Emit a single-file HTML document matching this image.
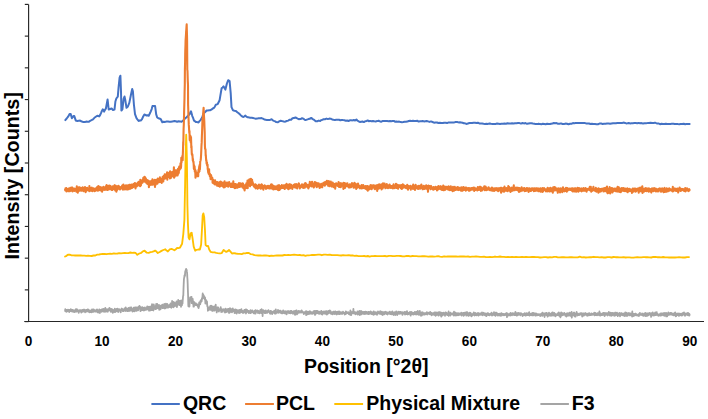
<!DOCTYPE html>
<html><head><meta charset="utf-8"><style>
html,body{margin:0;padding:0;background:#fff;}
svg{display:block;}
text{font-family:"Liberation Sans",sans-serif;font-weight:bold;fill:#000;}
</style></head><body>
<svg width="708" height="419" viewBox="0 0 708 419">
<rect width="708" height="419" fill="#fff"/>
<g stroke="#262626" stroke-width="1.15" fill="none">
<line x1="28.6" y1="4.4" x2="28.6" y2="321.5"/>
<line x1="24.3" y1="321.5" x2="704" y2="321.5"/>
<line x1="24.8" y1="4.40" x2="28.6" y2="4.40"/><line x1="24.8" y1="36.12" x2="28.6" y2="36.12"/><line x1="24.8" y1="67.84" x2="28.6" y2="67.84"/><line x1="24.8" y1="99.56" x2="28.6" y2="99.56"/><line x1="24.8" y1="131.28" x2="28.6" y2="131.28"/><line x1="24.8" y1="163.00" x2="28.6" y2="163.00"/><line x1="24.8" y1="194.72" x2="28.6" y2="194.72"/><line x1="24.8" y1="226.44" x2="28.6" y2="226.44"/><line x1="24.8" y1="258.16" x2="28.6" y2="258.16"/><line x1="24.8" y1="289.88" x2="28.6" y2="289.88"/><line x1="24.8" y1="321.60" x2="28.6" y2="321.60"/>
</g>
<g fill="none" stroke-linejoin="round" stroke-linecap="round">
<path d="M65.3 120.1 L66.7 118.5 L68.1 116.7 L69.6 114.1 L70.7 114.0 L71.9 118.2 L73.4 116.1 L74.3 116.1 L75.8 120.6 L77.2 120.9 L78.7 120.7 L80.1 120.6 L81.3 121.3 L82.5 121.7 L83.7 122.0 L85.0 122.0 L86.2 121.6 L87.5 121.8 L88.7 121.8 L90.1 120.9 L91.5 120.2 L93.0 119.4 L94.4 117.8 L95.8 116.8 L97.3 115.7 L98.2 116.0 L99.2 116.4 L100.2 114.9 L101.1 112.9 L101.9 110.9 L102.8 109.3 L104.1 111.6 L105.0 109.9 L105.9 108.5 L106.8 103.6 L107.6 99.5 L108.7 109.5 L110.2 109.0 L111.6 108.5 L113.0 110.0 L114.5 109.6 L115.4 101.5 L116.4 98.3 L117.8 96.7 L118.6 87.2 L119.6 77.6 L120.4 75.7 L121.0 91.4 L121.4 110.5 L122.4 109.3 L123.6 98.8 L124.5 96.5 L125.3 100.1 L126.5 107.8 L127.9 106.5 L129.3 102.9 L130.8 95.5 L132.2 89.0 L132.9 91.2 L133.9 104.5 L135.0 114.1 L136.5 118.1 L137.6 119.7 L138.6 121.0 L139.7 120.4 L140.8 120.5 L141.9 119.4 L142.9 117.1 L144.4 114.5 L145.4 114.9 L146.5 115.5 L147.6 115.3 L148.7 115.7 L149.8 113.5 L150.8 111.3 L151.7 109.1 L152.5 106.1 L153.7 106.0 L155.1 106.1 L156.2 114.4 L157.2 117.5 L158.3 118.2 L159.4 118.5 L160.8 119.2 L162.3 122.2 L163.7 121.8 L165.2 121.9 L166.6 121.5 L168.0 121.6 L169.4 121.7 L170.9 121.7 L172.3 121.6 L173.4 121.2 L174.6 121.1 L175.7 121.2 L177.1 121.7 L178.6 121.2 L180.1 121.4 L181.5 121.8 L182.6 120.9 L183.7 120.0 L185.1 118.4 L186.6 117.3 L188.1 115.7 L189.5 114.3 L191.0 111.3 L192.3 116.1 L193.2 118.2 L194.0 120.6 L194.9 121.2 L195.8 121.9 L197.2 122.1 L198.5 122.5 L199.5 121.1 L200.5 120.1 L201.5 118.7 L202.5 116.4 L203.8 113.2 L205.2 112.0 L206.6 110.5 L207.9 110.4 L209.1 110.3 L210.4 110.2 L211.7 109.4 L213.0 108.4 L214.3 107.6 L215.8 104.8 L216.8 104.4 L217.7 104.0 L218.6 102.2 L219.6 100.2 L220.6 94.2 L221.6 88.3 L222.6 87.4 L223.5 86.4 L224.4 87.7 L225.4 89.6 L226.9 83.5 L228.2 80.2 L229.6 81.1 L230.7 93.1 L231.5 107.1 L233.0 110.3 L234.4 110.7 L235.9 110.9 L237.3 112.2 L238.7 113.3 L240.1 114.6 L241.6 116.1 L242.6 116.7 L243.5 116.9 L244.4 116.4 L245.4 115.6 L246.4 116.7 L247.3 117.2 L248.2 117.3 L249.0 117.4 L250.4 117.7 L251.7 117.8 L253.1 118.1 L254.4 118.4 L255.8 118.7 L257.2 118.6 L258.6 118.2 L260.1 118.2 L261.5 118.1 L262.9 118.7 L264.3 119.5 L265.7 119.7 L267.1 120.1 L268.6 119.9 L270.1 119.9 L271.6 119.3 L272.8 120.3 L273.9 120.8 L275.1 121.3 L276.2 122.1 L277.7 122.3 L279.2 121.4 L280.7 120.7 L282.2 121.1 L283.7 121.5 L285.2 121.7 L286.7 121.0 L288.2 120.6 L289.7 119.7 L291.1 119.7 L292.5 118.3 L294.0 118.1 L295.4 117.4 L296.5 118.0 L297.7 118.7 L298.8 119.2 L299.9 119.0 L301.0 118.9 L302.1 118.2 L303.2 118.6 L304.4 119.6 L305.5 120.1 L306.9 119.6 L308.4 119.1 L309.8 118.8 L311.2 117.9 L312.7 119.1 L314.2 119.9 L315.7 121.2 L317.2 121.2 L318.7 120.6 L320.2 121.0 L321.3 120.1 L322.5 119.8 L323.6 119.2 L325.0 119.2 L326.5 118.6 L327.9 119.1 L329.3 118.6 L330.7 118.7 L332.1 119.5 L333.5 119.8 L334.9 120.0 L336.3 119.8 L337.6 119.7 L339.0 119.7 L340.3 120.2 L341.7 119.9 L343.1 120.1 L344.4 120.2 L345.8 120.7 L347.1 120.5 L348.5 121.0 L349.8 120.3 L351.1 120.3 L352.4 120.4 L353.8 120.0 L355.1 120.5 L356.4 119.5 L357.5 120.7 L358.7 121.3 L359.8 122.0 L361.2 121.7 L362.5 121.5 L363.9 122.1 L365.2 121.2 L366.6 120.9 L367.7 120.4 L368.9 121.3 L370.0 120.9 L371.4 121.3 L372.9 121.0 L374.3 121.3 L375.7 121.4 L377.1 121.1 L378.6 120.7 L380.0 121.5 L381.4 121.7 L382.9 120.9 L384.3 121.1 L385.7 121.1 L387.1 121.0 L388.6 121.2 L390.0 121.0 L391.2 121.2 L392.5 121.0 L393.8 120.9 L395.0 121.7 L396.4 121.5 L397.8 121.7 L399.2 121.6 L400.6 122.1 L402.0 122.2 L403.3 122.1 L404.7 121.8 L406.0 121.8 L407.3 121.6 L408.7 121.0 L410.0 120.8 L411.4 121.1 L412.9 120.7 L414.3 120.9 L415.7 121.1 L417.1 120.7 L418.6 121.6 L420.0 121.2 L421.3 121.3 L422.7 121.0 L424.0 121.4 L425.3 121.2 L426.7 121.0 L428.0 121.4 L429.5 121.9 L431.0 121.4 L432.5 122.0 L434.0 122.7 L435.5 122.4 L437.0 122.5 L438.4 123.0 L439.9 122.8 L441.3 122.9 L442.8 123.1 L444.2 122.8 L445.7 122.8 L447.1 123.1 L448.6 122.4 L450.0 122.5 L451.4 122.6 L452.9 122.4 L454.3 122.4 L455.7 122.0 L457.1 122.0 L458.6 122.4 L460.0 122.2 L461.2 122.6 L462.5 122.8 L463.8 123.2 L465.0 123.3 L466.4 123.9 L467.9 123.6 L469.3 123.0 L470.7 123.0 L472.1 123.1 L473.6 122.8 L475.0 122.8 L476.4 123.0 L477.9 122.7 L479.3 123.4 L480.7 123.5 L482.1 123.4 L483.6 123.7 L485.0 123.9 L486.5 123.8 L488.0 123.9 L489.5 123.5 L491.0 123.8 L492.5 123.9 L494.0 123.9 L495.5 123.9 L497.0 123.6 L498.5 123.7 L500.0 123.9 L501.5 123.7 L503.0 123.7 L504.5 123.6 L506.0 123.7 L507.5 123.2 L509.0 123.4 L510.5 123.6 L512.0 123.2 L513.5 123.5 L515.0 123.2 L516.5 123.2 L518.0 123.1 L519.5 123.1 L521.0 123.6 L522.5 123.0 L524.0 123.4 L525.5 123.1 L527.0 123.8 L528.5 123.5 L530.0 123.2 L531.4 123.2 L532.9 123.5 L534.3 123.7 L535.7 124.1 L537.1 124.1 L538.6 123.7 L540.0 124.1 L541.4 124.2 L542.9 123.8 L544.3 123.9 L545.7 124.2 L547.1 123.7 L548.6 124.0 L550.0 124.0 L551.2 123.7 L552.5 123.6 L553.8 123.0 L555.0 123.3 L556.5 123.1 L558.0 123.7 L559.5 123.8 L561.0 123.4 L562.5 124.0 L564.0 124.0 L565.5 123.6 L567.0 123.8 L568.5 124.2 L570.0 123.8 L571.4 123.8 L572.9 123.1 L574.3 123.2 L575.7 123.1 L577.1 123.1 L578.6 122.9 L580.0 123.0 L581.5 123.1 L583.0 123.0 L584.5 122.9 L586.0 123.4 L587.5 123.6 L589.0 123.5 L590.5 124.0 L592.0 123.7 L593.5 124.1 L595.0 124.1 L596.5 124.2 L598.0 124.2 L599.5 123.6 L601.0 123.4 L602.5 124.0 L604.0 123.8 L605.5 123.7 L607.0 123.5 L608.5 123.4 L610.0 123.8 L611.5 123.5 L613.0 123.2 L614.5 123.3 L616.0 123.3 L617.5 122.9 L619.0 122.9 L620.5 123.1 L622.0 123.0 L623.5 122.6 L625.0 122.9 L626.2 123.4 L627.5 123.3 L628.8 123.0 L630.0 123.4 L631.4 123.3 L632.9 123.2 L634.3 123.1 L635.7 123.1 L637.1 123.2 L638.6 122.9 L640.0 123.3 L641.5 123.1 L643.0 123.5 L644.5 123.2 L646.0 123.2 L647.5 123.1 L649.0 122.9 L650.5 122.7 L652.0 123.0 L653.5 122.9 L655.0 122.7 L656.2 123.2 L657.5 123.4 L658.8 123.5 L660.0 124.2 L661.5 123.8 L663.0 123.9 L664.4 124.1 L665.9 123.8 L667.4 123.9 L668.9 124.0 L670.4 123.9 L671.8 123.8 L673.3 123.7 L674.8 124.0 L676.3 123.9 L677.8 124.1 L679.2 124.2 L680.7 124.0 L682.2 124.1 L683.7 123.8 L685.2 124.3 L686.6 123.9 L688.1 124.0 L689.6 123.9" stroke="#4472C4" stroke-width="2"/>
<path d="M65.1 189.7 L65.3 190.4 L65.5 188.3 L65.7 188.5 L65.9 189.5 L66.1 189.5 L66.3 188.1 L66.5 191.5 L66.7 189.1 L66.9 189.2 L67.1 189.2 L67.3 189.1 L67.5 189.4 L67.7 189.7 L67.9 190.0 L68.1 189.0 L68.3 189.6 L68.5 191.3 L68.7 188.5 L68.9 190.1 L69.1 190.0 L69.3 190.7 L69.5 191.1 L69.7 188.2 L69.9 191.2 L70.1 189.2 L70.3 187.9 L70.5 188.6 L70.7 188.6 L70.9 189.2 L71.1 190.6 L71.3 188.1 L71.5 190.5 L71.7 187.5 L71.9 187.9 L72.1 188.4 L72.3 187.6 L72.5 188.8 L72.6 191.4 L72.8 190.9 L73.0 189.0 L73.2 188.7 L73.4 189.2 L73.6 188.9 L73.8 188.5 L74.0 189.9 L74.2 188.5 L74.4 190.9 L74.6 189.1 L74.8 189.2 L75.0 190.4 L75.2 189.7 L75.4 190.5 L75.6 190.5 L75.8 188.6 L76.0 189.9 L76.2 189.3 L76.4 191.6 L76.6 190.2 L76.8 186.4 L77.0 189.8 L77.2 191.2 L77.4 189.4 L77.6 189.4 L77.8 192.7 L78.0 188.4 L78.2 190.7 L78.4 187.6 L78.6 189.7 L78.8 187.4 L79.0 190.2 L79.2 190.8 L79.4 189.6 L79.6 187.4 L79.8 190.5 L80.0 189.7 L80.2 190.3 L80.4 187.9 L80.6 188.4 L80.8 188.3 L81.0 188.2 L81.2 189.5 L81.4 190.8 L81.6 189.6 L81.8 189.3 L82.0 189.2 L82.2 188.3 L82.4 188.5 L82.6 187.2 L82.8 190.2 L83.0 189.2 L83.2 188.6 L83.4 191.1 L83.6 188.4 L83.8 190.5 L84.0 188.7 L84.2 187.8 L84.4 187.5 L84.6 190.7 L84.8 189.9 L85.0 187.0 L85.2 188.8 L85.4 189.2 L85.6 192.1 L85.8 187.7 L86.0 189.2 L86.2 190.4 L86.4 188.2 L86.6 189.3 L86.8 190.7 L87.0 189.4 L87.2 187.9 L87.4 189.5 L87.6 189.8 L87.8 188.5 L88.0 189.0 L88.2 190.0 L88.4 189.1 L88.6 188.5 L88.8 189.1 L89.0 189.7 L89.2 191.1 L89.4 186.1 L89.6 188.6 L89.8 189.1 L90.0 189.4 L90.2 188.9 L90.4 190.7 L90.6 190.5 L90.8 188.0 L91.0 190.0 L91.2 189.1 L91.4 189.5 L91.6 187.9 L91.8 187.6 L92.0 190.9 L92.2 188.3 L92.4 189.9 L92.6 191.1 L92.8 190.2 L93.0 188.5 L93.2 189.9 L93.4 190.4 L93.6 188.8 L93.8 188.4 L94.0 189.5 L94.2 188.8 L94.4 189.0 L94.6 191.1 L94.8 189.8 L95.0 189.7 L95.2 190.4 L95.4 189.2 L95.6 188.6 L95.8 190.6 L96.0 188.9 L96.2 188.4 L96.4 188.7 L96.6 187.9 L96.8 187.3 L97.0 189.5 L97.2 189.6 L97.4 189.0 L97.6 187.9 L97.8 190.6 L97.9 189.8 L98.1 189.1 L98.3 186.0 L98.5 188.7 L98.7 190.4 L98.9 190.1 L99.1 186.9 L99.3 187.6 L99.5 189.0 L99.7 186.9 L99.9 187.9 L100.1 188.2 L100.3 189.1 L100.5 188.0 L100.7 190.4 L100.9 187.4 L101.1 187.8 L101.3 188.7 L101.5 187.5 L101.7 188.7 L101.9 188.1 L102.1 191.8 L102.3 188.9 L102.5 190.3 L102.7 189.6 L102.9 189.7 L103.1 189.0 L103.3 187.8 L103.4 186.7 L103.6 188.2 L103.8 188.0 L104.0 188.7 L104.2 189.9 L104.4 188.2 L104.6 188.1 L104.8 189.5 L105.0 187.2 L105.2 187.8 L105.4 189.7 L105.6 187.2 L105.8 186.5 L106.0 186.1 L106.2 188.1 L106.4 189.6 L106.6 185.1 L106.8 188.4 L107.0 188.8 L107.2 187.6 L107.4 188.6 L107.6 188.8 L107.8 190.0 L108.0 188.0 L108.2 189.1 L108.4 185.9 L108.6 187.2 L108.8 186.5 L109.0 189.3 L109.2 188.1 L109.4 189.2 L109.6 185.6 L109.8 187.4 L110.0 189.2 L110.2 188.1 L110.4 187.6 L110.6 186.0 L110.8 187.8 L111.0 188.2 L111.2 188.7 L111.4 187.8 L111.6 189.7 L111.8 189.9 L112.0 187.6 L112.2 189.3 L112.4 190.0 L112.6 188.8 L112.8 186.3 L113.0 186.8 L113.2 186.5 L113.4 187.7 L113.6 186.2 L113.8 188.9 L114.0 186.6 L114.2 188.9 L114.4 185.4 L114.6 185.2 L114.8 186.8 L115.0 187.8 L115.2 190.4 L115.4 189.4 L115.6 187.2 L115.8 185.8 L116.0 186.6 L116.2 187.7 L116.4 191.6 L116.6 189.3 L116.8 187.0 L117.0 187.4 L117.2 189.9 L117.4 187.9 L117.6 186.2 L117.8 188.7 L118.0 187.5 L118.2 187.7 L118.4 188.6 L118.6 185.7 L118.8 187.0 L119.0 187.9 L119.2 188.9 L119.4 187.3 L119.6 187.0 L119.8 189.1 L120.0 189.5 L120.2 187.0 L120.4 188.6 L120.6 187.2 L120.8 188.8 L121.0 187.9 L121.2 187.7 L121.4 188.4 L121.6 187.6 L121.8 186.8 L122.0 187.1 L122.2 185.5 L122.4 187.5 L122.6 187.9 L122.8 186.3 L123.0 189.7 L123.2 189.2 L123.4 184.6 L123.6 188.6 L123.8 188.5 L124.0 186.1 L124.2 188.8 L124.4 187.2 L124.6 187.7 L124.8 189.5 L125.0 189.4 L125.2 188.6 L125.4 185.5 L125.6 188.2 L125.8 185.9 L126.0 185.4 L126.2 187.5 L126.4 186.3 L126.6 186.6 L126.8 189.5 L127.0 186.3 L127.2 185.4 L127.4 186.1 L127.6 186.3 L127.8 189.4 L128.0 185.8 L128.2 186.9 L128.4 185.4 L128.6 187.7 L128.8 187.1 L128.9 189.1 L129.1 188.7 L129.3 184.8 L129.5 187.1 L129.7 187.6 L129.9 188.1 L130.1 184.7 L130.3 187.1 L130.5 188.7 L130.7 187.0 L130.9 186.8 L131.1 186.5 L131.3 186.8 L131.5 186.4 L131.7 184.5 L131.9 186.8 L132.1 187.9 L132.3 187.4 L132.5 184.8 L132.7 185.0 L132.9 186.9 L133.1 184.7 L133.3 187.1 L133.5 187.0 L133.7 183.8 L133.9 185.4 L134.1 186.4 L134.3 183.6 L134.5 185.5 L134.7 185.6 L134.9 183.0 L135.1 185.8 L135.3 184.9 L135.5 188.5 L135.7 186.2 L135.9 184.4 L136.1 183.5 L136.3 183.8 L136.5 184.3 L136.7 185.8 L136.9 186.3 L137.1 183.7 L137.3 184.4 L137.5 184.2 L137.7 184.6 L137.9 182.9 L138.1 183.2 L138.3 184.9 L138.5 181.9 L138.7 183.8 L138.9 184.1 L139.1 185.5 L139.3 182.2 L139.5 184.8 L139.7 182.8 L139.9 182.0 L140.1 186.1 L140.3 179.9 L140.5 183.8 L140.7 182.3 L140.9 185.4 L141.1 182.6 L141.3 181.0 L141.5 182.9 L141.7 183.3 L141.9 182.0 L142.1 182.6 L142.3 181.5 L142.5 179.9 L142.7 182.4 L142.9 180.6 L143.1 179.4 L143.3 177.9 L143.5 179.7 L143.6 181.1 L143.8 178.9 L144.0 178.8 L144.2 178.9 L144.4 176.9 L144.6 178.0 L144.8 181.6 L145.0 180.3 L145.2 177.3 L145.4 180.2 L145.6 179.8 L145.7 181.2 L145.9 178.5 L146.1 181.6 L146.3 182.8 L146.5 180.5 L146.7 181.9 L146.8 181.2 L147.0 180.0 L147.2 183.8 L147.4 183.9 L147.6 182.0 L147.8 182.7 L148.0 180.9 L148.1 180.5 L148.3 182.6 L148.5 182.4 L148.7 182.6 L148.9 187.2 L149.1 181.5 L149.2 181.3 L149.4 182.5 L149.6 183.1 L149.8 185.3 L150.0 182.5 L150.2 183.4 L150.4 181.6 L150.6 184.0 L150.8 183.0 L151.0 184.7 L151.2 181.0 L151.4 180.9 L151.6 184.6 L151.8 182.3 L152.0 184.0 L152.2 184.8 L152.4 179.2 L152.6 184.7 L152.8 183.8 L153.0 180.1 L153.2 183.1 L153.4 180.9 L153.6 182.1 L153.8 184.5 L154.0 184.2 L154.2 182.6 L154.4 181.6 L154.6 181.8 L154.8 179.9 L155.0 187.0 L155.2 181.0 L155.4 185.1 L155.6 183.0 L155.8 183.8 L156.0 184.0 L156.2 183.4 L156.4 179.7 L156.6 179.9 L156.8 180.3 L157.0 182.7 L157.2 179.5 L157.4 183.7 L157.6 181.6 L157.8 178.5 L158.0 180.7 L158.2 180.8 L158.4 179.4 L158.6 181.5 L158.8 181.2 L158.9 178.7 L159.1 182.1 L159.3 180.5 L159.5 179.9 L159.7 179.7 L159.9 177.4 L160.1 180.1 L160.3 182.0 L160.5 180.0 L160.7 180.2 L160.9 179.8 L161.1 179.7 L161.3 181.1 L161.5 179.0 L161.7 182.9 L161.9 179.6 L162.1 178.4 L162.3 179.0 L162.5 178.9 L162.7 176.7 L162.9 178.9 L163.1 179.1 L163.3 181.4 L163.5 177.6 L163.7 176.9 L163.9 175.8 L164.1 176.4 L164.3 177.0 L164.5 176.5 L164.7 174.4 L164.9 177.1 L165.1 178.6 L165.3 177.2 L165.5 176.1 L165.7 177.9 L165.9 174.9 L166.1 174.3 L166.3 175.2 L166.5 177.3 L166.7 173.9 L166.9 174.7 L167.1 172.3 L167.3 179.6 L167.5 173.7 L167.7 175.0 L167.9 176.9 L168.1 177.0 L168.3 174.9 L168.5 174.8 L168.7 173.1 L168.9 173.5 L169.1 173.8 L169.3 175.8 L169.5 175.3 L169.7 172.0 L169.9 178.4 L170.1 171.4 L170.3 176.7 L170.5 174.6 L170.7 175.6 L170.9 178.0 L171.1 172.5 L171.3 175.7 L171.5 172.2 L171.7 174.7 L171.9 175.1 L172.1 172.5 L172.3 172.7 L172.5 174.4 L172.7 171.7 L172.9 176.4 L173.1 175.0 L173.3 173.2 L173.5 173.5 L173.7 174.1 L173.9 167.3 L174.1 177.8 L174.3 170.4 L174.5 174.6 L174.7 176.7 L174.9 172.0 L175.1 170.8 L175.3 170.7 L175.5 170.4 L175.7 174.4 L175.8 174.2 L176.0 170.3 L176.2 175.4 L176.4 173.2 L176.6 173.3 L176.8 171.7 L177.0 170.6 L177.2 171.5 L177.4 172.6 L177.6 175.4 L177.8 171.6 L178.0 168.9 L178.2 174.0 L178.4 170.2 L178.6 170.6 L178.8 173.0 L179.0 167.8 L179.2 166.6 L179.4 169.5 L179.6 169.7 L179.8 169.4 L180.0 167.6 L180.2 167.3 L180.3 167.8 L180.5 163.2 L180.7 168.5 L180.9 167.8 L181.1 166.1 L181.3 157.7 L181.5 162.8 L181.6 159.0 L181.8 158.9 L182.0 160.7 L182.2 160.2 L182.4 158.6 L182.5 155.5 L182.7 160.3 L182.8 155.0 L183.0 150.1 L183.2 141.7 L183.3 145.3 L183.5 134.4 L183.6 128.7 L183.8 124.7 L184.0 117.6 L184.1 111.8 L184.3 105.0 L184.5 98.2 L184.6 91.8 L184.8 84.4 L184.9 69.5 L185.1 62.8 L185.2 54.3 L185.3 49.9 L185.5 44.8 L185.6 40.3 L185.8 37.3 L186.0 34.7 L186.1 32.2 L186.3 29.8 L186.5 26.7 L186.7 24.4 L186.8 29.0 L187.0 35.4 L187.1 40.2 L187.2 55.0 L187.3 69.7 L187.5 71.0 L187.7 78.2 L187.8 81.4 L188.0 84.7 L188.1 104.7 L188.3 110.3 L188.4 115.1 L188.6 120.1 L188.8 124.9 L189.0 127.6 L189.2 131.1 L189.3 132.9 L189.5 131.0 L189.7 139.8 L189.8 140.3 L190.0 140.1 L190.2 136.7 L190.3 135.5 L190.5 139.8 L190.7 141.4 L190.8 142.7 L191.0 137.1 L191.2 142.9 L191.3 148.0 L191.5 146.0 L191.6 149.1 L191.8 154.1 L192.0 154.9 L192.2 154.1 L192.4 154.6 L192.6 157.3 L192.8 160.5 L193.0 159.0 L193.1 161.7 L193.3 161.8 L193.5 161.7 L193.7 164.9 L193.9 169.0 L194.1 165.2 L194.2 166.0 L194.4 166.3 L194.6 166.6 L194.8 171.7 L195.0 169.5 L195.2 169.5 L195.4 174.7 L195.5 177.6 L195.7 170.8 L195.9 173.3 L196.1 174.1 L196.3 174.2 L196.5 173.3 L196.6 174.2 L196.8 172.7 L197.0 175.7 L197.2 173.1 L197.4 174.8 L197.6 176.3 L197.8 175.2 L198.0 175.0 L198.2 176.1 L198.4 171.4 L198.6 169.5 L198.8 170.8 L198.9 172.1 L199.1 167.7 L199.3 166.1 L199.5 171.1 L199.7 164.7 L199.9 169.4 L200.1 165.8 L200.2 161.7 L200.4 161.1 L200.6 160.3 L200.8 159.3 L201.0 156.4 L201.1 154.8 L201.3 149.9 L201.5 145.3 L201.7 142.4 L201.9 135.7 L202.0 133.7 L202.2 128.3 L202.4 122.4 L202.6 118.4 L202.8 118.1 L203.0 117.3 L203.2 113.0 L203.4 110.2 L203.6 107.8 L203.8 112.0 L203.9 115.1 L204.1 117.5 L204.3 121.3 L204.5 127.4 L204.7 132.0 L204.9 145.2 L205.1 149.0 L205.3 149.1 L205.5 149.3 L205.7 155.8 L205.8 154.9 L206.0 157.9 L206.2 160.6 L206.4 160.1 L206.6 163.7 L206.8 162.1 L207.0 162.5 L207.2 165.7 L207.4 165.0 L207.6 164.8 L207.7 168.9 L207.9 169.6 L208.1 171.3 L208.3 173.0 L208.5 172.4 L208.7 173.8 L208.9 173.8 L209.1 169.2 L209.3 174.5 L209.5 173.4 L209.7 175.8 L209.9 173.7 L210.0 176.4 L210.2 176.1 L210.4 175.6 L210.6 179.1 L210.8 179.0 L211.0 175.0 L211.2 176.0 L211.4 176.3 L211.6 178.7 L211.8 178.2 L212.0 178.2 L212.2 179.3 L212.4 178.1 L212.6 182.8 L212.8 182.2 L213.0 181.1 L213.1 179.9 L213.3 183.3 L213.5 182.6 L213.7 181.9 L213.9 183.4 L214.1 180.7 L214.3 183.9 L214.5 183.9 L214.7 181.9 L214.9 184.4 L215.1 180.2 L215.2 183.4 L215.4 183.8 L215.6 183.0 L215.8 181.7 L216.0 181.7 L216.2 184.4 L216.4 183.8 L216.6 183.3 L216.8 184.8 L217.0 184.9 L217.2 185.8 L217.4 184.9 L217.5 182.1 L217.7 184.2 L217.9 182.2 L218.1 183.9 L218.3 185.9 L218.5 183.7 L218.7 182.7 L218.9 184.4 L219.1 185.0 L219.3 184.5 L219.5 184.0 L219.7 186.8 L219.9 185.9 L220.1 181.7 L220.3 182.7 L220.4 186.3 L220.6 181.5 L220.8 184.4 L221.0 184.6 L221.2 183.8 L221.4 182.8 L221.6 185.4 L221.8 182.4 L222.0 183.1 L222.2 185.9 L222.4 184.1 L222.6 183.7 L222.8 186.5 L223.0 183.2 L223.2 185.1 L223.4 182.8 L223.6 186.9 L223.8 187.5 L224.0 182.9 L224.2 184.7 L224.4 185.9 L224.6 181.4 L224.8 187.2 L225.0 182.5 L225.2 183.7 L225.4 184.5 L225.6 184.5 L225.8 184.6 L226.0 184.2 L226.2 182.8 L226.4 185.9 L226.6 186.0 L226.8 182.5 L227.0 186.2 L227.2 184.4 L227.4 184.3 L227.6 182.8 L227.8 182.7 L228.0 184.5 L228.2 186.7 L228.4 183.5 L228.6 184.4 L228.8 185.7 L229.0 185.6 L229.2 182.1 L229.4 183.1 L229.6 185.0 L229.8 184.2 L230.0 184.4 L230.2 184.9 L230.4 184.9 L230.6 186.7 L230.8 187.0 L231.0 185.0 L231.2 185.5 L231.4 183.5 L231.6 187.0 L231.8 184.7 L231.9 186.7 L232.1 184.9 L232.3 185.0 L232.5 185.4 L232.7 186.1 L232.9 183.9 L233.1 187.0 L233.3 181.4 L233.5 185.2 L233.7 184.8 L233.9 187.0 L234.1 187.3 L234.3 186.5 L234.5 185.7 L234.7 184.1 L234.9 188.2 L235.1 186.1 L235.3 185.3 L235.5 184.9 L235.7 184.1 L235.9 187.9 L236.1 186.5 L236.3 185.9 L236.5 186.7 L236.6 184.8 L236.8 186.7 L237.0 187.0 L237.2 184.6 L237.4 187.3 L237.6 187.6 L237.8 186.4 L238.0 184.4 L238.2 184.5 L238.4 186.6 L238.6 186.8 L238.8 185.3 L239.0 183.0 L239.2 186.9 L239.4 184.1 L239.5 186.1 L239.7 184.6 L239.9 186.9 L240.1 186.2 L240.3 185.0 L240.5 186.1 L240.7 183.4 L240.9 183.7 L241.1 184.9 L241.3 185.3 L241.5 184.9 L241.7 185.0 L241.9 184.8 L242.1 183.8 L242.3 186.7 L242.5 187.5 L242.7 183.2 L242.9 185.8 L243.1 183.8 L243.2 185.7 L243.4 186.8 L243.6 188.5 L243.8 187.3 L244.0 185.6 L244.2 187.6 L244.4 187.7 L244.6 190.4 L244.8 185.8 L245.0 186.4 L245.2 185.1 L245.4 186.0 L245.6 187.1 L245.8 187.7 L246.0 188.1 L246.2 185.0 L246.4 183.2 L246.6 187.3 L246.7 186.3 L246.9 186.8 L247.1 187.8 L247.3 185.8 L247.5 180.6 L247.7 188.1 L247.9 184.9 L248.1 182.4 L248.3 184.4 L248.4 184.6 L248.6 183.7 L248.8 180.0 L249.0 182.0 L249.2 183.2 L249.4 179.2 L249.6 181.1 L249.8 181.0 L250.0 186.2 L250.2 185.1 L250.3 180.4 L250.5 183.5 L250.7 181.1 L250.9 178.8 L251.1 181.8 L251.3 184.9 L251.5 180.2 L251.7 181.8 L251.9 184.8 L252.1 179.8 L252.2 184.2 L252.4 182.8 L252.6 181.9 L252.8 183.3 L253.0 183.2 L253.2 185.0 L253.4 184.0 L253.6 184.4 L253.8 186.4 L254.0 185.9 L254.2 186.0 L254.4 185.7 L254.6 186.4 L254.8 187.3 L255.0 186.7 L255.2 185.8 L255.4 184.4 L255.6 187.8 L255.8 188.4 L256.0 184.8 L256.2 186.6 L256.4 186.4 L256.6 186.1 L256.8 185.6 L257.0 187.3 L257.2 186.3 L257.4 185.7 L257.6 187.6 L257.8 188.7 L258.0 186.8 L258.2 185.6 L258.4 186.0 L258.6 187.9 L258.8 187.9 L259.0 184.6 L259.2 186.4 L259.4 187.5 L259.6 186.2 L259.8 187.2 L260.0 187.0 L260.2 185.6 L260.4 186.0 L260.6 188.8 L260.8 187.0 L261.0 184.8 L261.2 187.2 L261.4 187.2 L261.6 184.4 L261.8 187.3 L262.0 184.8 L262.2 188.2 L262.4 187.5 L262.6 187.4 L262.8 186.7 L263.0 189.0 L263.2 186.1 L263.4 189.8 L263.6 186.6 L263.8 187.2 L264.0 186.2 L264.2 187.8 L264.4 185.5 L264.6 185.3 L264.8 187.1 L265.0 187.2 L265.2 187.0 L265.4 186.0 L265.6 186.7 L265.8 187.9 L266.0 188.9 L266.2 187.0 L266.4 187.8 L266.6 186.4 L266.8 186.3 L267.0 187.9 L267.2 186.9 L267.4 186.8 L267.6 186.2 L267.8 186.7 L268.0 185.8 L268.2 188.3 L268.4 187.5 L268.6 188.1 L268.7 187.5 L268.9 187.1 L269.1 186.0 L269.3 188.5 L269.5 187.9 L269.7 188.3 L269.9 187.7 L270.1 186.5 L270.3 188.4 L270.5 187.2 L270.7 188.1 L270.9 184.5 L271.1 187.6 L271.3 186.1 L271.5 188.4 L271.7 184.2 L271.9 187.3 L272.1 185.6 L272.3 188.8 L272.5 188.1 L272.7 186.5 L272.9 185.6 L273.1 187.4 L273.3 189.5 L273.5 187.6 L273.7 187.4 L273.9 186.8 L274.1 186.3 L274.3 187.9 L274.5 186.4 L274.7 188.5 L274.9 189.3 L275.1 187.3 L275.3 186.4 L275.4 188.1 L275.6 188.4 L275.8 189.0 L276.0 188.5 L276.2 188.5 L276.4 186.8 L276.6 187.2 L276.8 187.3 L277.0 186.7 L277.2 186.2 L277.4 185.7 L277.6 189.6 L277.8 187.6 L278.0 188.2 L278.2 187.3 L278.4 190.2 L278.6 188.0 L278.8 185.3 L279.0 185.0 L279.2 188.0 L279.4 189.8 L279.6 189.9 L279.8 187.5 L280.0 186.0 L280.2 188.9 L280.4 186.5 L280.6 188.1 L280.8 186.8 L281.0 186.5 L281.2 188.2 L281.4 186.1 L281.6 187.1 L281.8 185.0 L282.0 187.9 L282.2 187.4 L282.4 185.5 L282.6 188.0 L282.8 186.6 L283.0 186.8 L283.2 187.3 L283.4 188.0 L283.6 187.6 L283.8 185.3 L284.0 185.8 L284.2 188.4 L284.4 188.0 L284.6 187.7 L284.8 189.0 L285.0 187.2 L285.2 185.0 L285.4 186.9 L285.6 187.6 L285.7 186.3 L285.9 185.9 L286.1 186.2 L286.3 186.6 L286.5 183.7 L286.7 186.8 L286.9 187.8 L287.1 186.1 L287.3 188.1 L287.5 188.0 L287.7 186.1 L287.9 184.9 L288.1 186.9 L288.3 189.2 L288.5 189.1 L288.7 187.7 L288.9 185.7 L289.1 187.6 L289.3 184.2 L289.5 188.5 L289.7 187.3 L289.9 184.3 L290.1 187.3 L290.3 188.2 L290.5 186.2 L290.7 184.6 L290.9 187.2 L291.1 187.1 L291.3 184.9 L291.5 186.2 L291.7 187.5 L291.9 187.1 L292.1 186.3 L292.3 188.9 L292.5 186.5 L292.7 185.8 L292.9 187.6 L293.1 186.4 L293.3 186.5 L293.5 186.3 L293.7 186.3 L293.9 184.7 L294.1 186.5 L294.3 185.2 L294.5 185.1 L294.7 184.2 L294.9 187.4 L295.1 185.4 L295.3 186.9 L295.5 184.6 L295.7 186.2 L295.9 187.6 L296.1 184.1 L296.3 186.4 L296.5 186.2 L296.7 185.8 L296.9 187.5 L297.0 186.3 L297.2 188.4 L297.4 184.5 L297.6 184.6 L297.8 186.5 L298.0 184.8 L298.2 186.2 L298.4 186.1 L298.6 186.2 L298.8 183.4 L299.0 183.8 L299.2 186.6 L299.4 185.6 L299.6 186.0 L299.8 188.4 L300.0 185.4 L300.2 186.8 L300.4 187.5 L300.6 186.0 L300.8 186.1 L301.0 185.6 L301.2 185.4 L301.4 185.5 L301.6 185.1 L301.8 186.7 L302.0 184.3 L302.2 186.2 L302.3 184.5 L302.5 187.4 L302.7 185.8 L302.9 186.5 L303.1 185.0 L303.3 187.9 L303.5 185.7 L303.7 185.7 L303.9 185.8 L304.1 185.7 L304.2 186.5 L304.4 185.3 L304.6 183.7 L304.8 187.6 L305.0 184.8 L305.2 183.0 L305.4 184.3 L305.6 183.5 L305.8 183.3 L306.0 186.4 L306.2 186.4 L306.4 185.9 L306.6 184.4 L306.8 184.6 L307.0 184.7 L307.2 186.8 L307.4 185.8 L307.6 187.1 L307.8 187.4 L308.0 186.6 L308.2 184.7 L308.4 188.4 L308.6 185.1 L308.8 186.1 L309.0 187.0 L309.2 186.9 L309.4 185.9 L309.6 186.2 L309.8 181.7 L310.0 184.1 L310.2 182.8 L310.4 184.4 L310.6 183.7 L310.8 185.6 L311.0 184.3 L311.2 185.0 L311.4 183.6 L311.6 186.4 L311.8 184.0 L312.0 181.7 L312.2 181.7 L312.4 183.2 L312.6 183.5 L312.8 183.9 L313.0 184.0 L313.2 185.8 L313.4 185.7 L313.6 187.0 L313.8 187.5 L314.0 183.6 L314.2 185.2 L314.4 186.7 L314.6 185.6 L314.8 182.0 L315.0 185.2 L315.2 183.1 L315.4 182.6 L315.6 183.9 L315.8 182.6 L316.0 184.9 L316.2 184.5 L316.4 184.8 L316.6 185.4 L316.8 187.1 L317.0 183.0 L317.2 185.2 L317.4 184.3 L317.6 185.3 L317.8 185.8 L318.0 186.0 L318.2 183.8 L318.4 184.2 L318.6 183.3 L318.8 185.8 L319.0 186.3 L319.2 187.1 L319.4 185.9 L319.6 187.9 L319.8 184.5 L320.0 187.5 L320.2 186.0 L320.4 187.3 L320.6 186.5 L320.8 186.0 L321.0 184.5 L321.2 183.8 L321.4 184.3 L321.6 185.7 L321.8 185.5 L322.0 185.2 L322.2 187.3 L322.4 185.6 L322.6 185.6 L322.8 185.6 L323.0 184.7 L323.2 183.1 L323.4 184.5 L323.6 182.9 L323.8 185.1 L324.0 183.9 L324.2 183.4 L324.4 183.8 L324.6 182.5 L324.8 185.6 L325.0 182.1 L325.2 182.0 L325.4 182.8 L325.6 184.7 L325.8 182.9 L326.0 182.4 L326.2 182.7 L326.4 181.9 L326.6 182.4 L326.8 180.7 L327.0 180.7 L327.2 183.8 L327.4 184.1 L327.6 184.0 L327.8 184.2 L328.0 184.3 L328.2 185.8 L328.4 183.0 L328.6 183.5 L328.8 181.1 L329.0 186.0 L329.2 185.8 L329.4 186.1 L329.6 185.7 L329.8 183.6 L330.0 184.5 L330.2 182.3 L330.4 183.3 L330.6 183.6 L330.8 181.6 L331.0 184.2 L331.2 185.7 L331.4 186.3 L331.6 182.9 L331.8 184.9 L332.0 186.0 L332.2 186.6 L332.4 183.1 L332.6 182.5 L332.8 183.1 L333.0 183.1 L333.2 184.3 L333.4 184.0 L333.6 185.0 L333.8 187.2 L334.0 185.2 L334.2 185.2 L334.4 185.6 L334.6 185.5 L334.8 187.7 L335.0 183.8 L335.2 188.6 L335.4 186.0 L335.6 184.7 L335.8 186.0 L336.0 185.2 L336.2 183.4 L336.4 184.6 L336.6 183.5 L336.8 184.5 L337.0 184.7 L337.2 185.5 L337.4 184.6 L337.6 184.0 L337.8 185.9 L338.0 185.6 L338.2 185.8 L338.4 184.6 L338.6 182.1 L338.8 183.7 L339.0 186.9 L339.2 184.6 L339.4 184.1 L339.6 183.2 L339.8 186.9 L340.0 186.3 L340.2 184.4 L340.4 184.5 L340.6 183.3 L340.8 187.2 L341.0 183.3 L341.2 183.4 L341.4 184.1 L341.6 185.0 L341.8 185.8 L342.0 184.9 L342.2 184.3 L342.4 185.0 L342.6 183.5 L342.8 185.4 L343.0 186.0 L343.2 185.3 L343.4 189.0 L343.6 182.9 L343.8 185.9 L344.0 185.2 L344.2 186.8 L344.4 184.2 L344.6 186.2 L344.8 183.0 L345.0 187.9 L345.2 185.0 L345.4 186.0 L345.6 184.2 L345.8 185.2 L346.0 184.6 L346.2 184.8 L346.4 183.9 L346.6 183.7 L346.8 186.3 L347.0 183.7 L347.2 185.9 L347.4 183.4 L347.6 185.9 L347.8 185.5 L348.0 185.2 L348.2 186.6 L348.4 185.4 L348.6 185.1 L348.8 187.4 L349.0 187.2 L349.2 185.1 L349.4 186.6 L349.6 186.2 L349.8 184.3 L350.0 187.4 L350.2 186.1 L350.4 185.1 L350.6 187.3 L350.8 184.6 L351.0 186.2 L351.2 187.1 L351.4 185.5 L351.6 186.3 L351.8 185.9 L352.0 183.1 L352.2 184.1 L352.4 186.1 L352.6 184.1 L352.8 183.9 L353.0 184.7 L353.2 185.9 L353.4 184.1 L353.6 187.7 L353.8 183.7 L354.0 187.8 L354.2 183.1 L354.4 187.0 L354.6 182.7 L354.8 186.8 L355.0 185.6 L355.2 184.9 L355.4 184.4 L355.6 187.0 L355.8 184.4 L356.0 185.2 L356.2 189.0 L356.4 184.4 L356.6 185.1 L356.8 187.3 L357.0 185.9 L357.2 185.8 L357.4 187.6 L357.6 184.1 L357.8 187.0 L358.0 183.6 L358.2 187.0 L358.4 184.6 L358.6 187.0 L358.8 186.6 L359.0 186.9 L359.2 185.8 L359.4 186.1 L359.6 187.1 L359.8 188.2 L360.0 188.0 L360.2 186.9 L360.4 186.3 L360.6 186.4 L360.8 187.0 L361.0 187.7 L361.2 186.2 L361.4 188.4 L361.6 185.0 L361.8 186.9 L362.0 187.4 L362.2 186.6 L362.4 187.3 L362.6 186.7 L362.8 188.2 L363.0 186.3 L363.2 185.1 L363.4 186.8 L363.6 186.2 L363.8 186.9 L364.0 187.9 L364.2 186.8 L364.4 187.7 L364.6 188.1 L364.8 186.3 L365.0 188.4 L365.2 188.6 L365.4 186.6 L365.6 186.2 L365.8 187.9 L366.0 188.9 L366.2 188.6 L366.4 186.5 L366.6 188.6 L366.8 189.5 L367.0 186.0 L367.2 188.3 L367.4 186.8 L367.6 186.0 L367.8 190.7 L368.0 187.9 L368.2 186.5 L368.4 188.2 L368.6 188.1 L368.8 186.8 L369.0 189.4 L369.2 186.8 L369.4 188.8 L369.6 189.1 L369.8 187.2 L370.0 188.0 L370.2 186.4 L370.4 185.3 L370.6 188.2 L370.8 185.0 L371.0 187.7 L371.2 185.8 L371.4 186.3 L371.6 189.2 L371.8 189.0 L372.0 185.6 L372.2 185.9 L372.4 185.5 L372.6 187.6 L372.8 187.5 L373.0 187.5 L373.2 185.4 L373.4 186.8 L373.6 187.1 L373.8 187.7 L374.0 185.3 L374.2 186.1 L374.4 186.7 L374.6 188.9 L374.8 187.6 L375.0 189.1 L375.2 186.6 L375.4 187.4 L375.6 185.9 L375.8 185.8 L376.0 185.7 L376.2 185.3 L376.4 186.5 L376.6 186.6 L376.8 186.7 L377.0 185.5 L377.2 190.9 L377.4 185.9 L377.6 185.8 L377.8 188.5 L378.0 185.6 L378.2 184.9 L378.4 186.8 L378.6 185.9 L378.8 188.6 L379.0 187.9 L379.2 184.3 L379.4 187.5 L379.6 188.1 L379.8 185.9 L380.0 186.3 L380.2 187.0 L380.4 186.4 L380.6 186.5 L380.8 186.6 L380.9 185.5 L381.1 188.2 L381.3 184.4 L381.5 189.4 L381.7 186.5 L381.9 186.4 L382.1 186.8 L382.3 184.5 L382.5 184.8 L382.7 188.4 L382.8 185.9 L383.0 183.3 L383.2 187.4 L383.4 186.2 L383.6 184.0 L383.8 186.6 L384.0 184.9 L384.2 185.2 L384.4 184.6 L384.6 183.6 L384.8 185.3 L385.0 186.1 L385.2 187.1 L385.4 188.3 L385.6 187.2 L385.8 185.5 L386.0 185.4 L386.2 187.6 L386.4 187.1 L386.6 187.2 L386.8 184.1 L387.0 185.4 L387.2 187.1 L387.4 187.6 L387.6 186.1 L387.8 185.4 L388.0 188.2 L388.2 186.7 L388.4 187.7 L388.6 185.4 L388.8 186.1 L389.0 187.1 L389.2 185.4 L389.4 186.2 L389.6 184.5 L389.8 187.8 L390.0 187.4 L390.2 185.6 L390.4 186.9 L390.6 187.3 L390.8 187.9 L391.0 187.4 L391.2 186.1 L391.4 186.8 L391.6 186.6 L391.8 186.2 L392.0 186.4 L392.2 187.1 L392.4 188.1 L392.6 188.3 L392.8 185.6 L393.0 187.8 L393.2 186.9 L393.4 185.8 L393.6 184.3 L393.8 188.3 L394.0 186.3 L394.2 185.4 L394.4 187.8 L394.6 187.1 L394.8 187.9 L395.0 187.0 L395.2 187.4 L395.4 187.1 L395.6 186.5 L395.8 186.0 L396.0 183.7 L396.2 186.5 L396.4 187.8 L396.6 188.0 L396.8 188.0 L397.0 184.6 L397.2 185.8 L397.4 187.9 L397.6 186.3 L397.8 185.7 L398.0 186.3 L398.2 188.8 L398.4 185.3 L398.6 186.1 L398.8 185.3 L399.0 187.0 L399.2 186.3 L399.4 186.1 L399.6 186.7 L399.8 185.2 L400.0 187.0 L400.2 186.7 L400.4 186.1 L400.6 185.3 L400.8 186.9 L401.0 188.3 L401.2 185.0 L401.4 186.5 L401.6 186.7 L401.8 188.9 L402.0 185.0 L402.2 188.3 L402.4 188.4 L402.6 187.4 L402.8 184.4 L403.0 187.8 L403.2 187.8 L403.4 186.9 L403.6 185.5 L403.8 186.9 L404.0 185.4 L404.2 187.1 L404.4 185.5 L404.6 187.0 L404.8 187.3 L405.0 185.9 L405.2 187.2 L405.4 186.4 L405.6 186.0 L405.8 188.0 L406.0 186.5 L406.2 187.1 L406.4 186.0 L406.6 188.3 L406.8 186.8 L407.0 186.2 L407.2 184.8 L407.4 186.4 L407.6 186.5 L407.8 186.6 L408.0 189.6 L408.2 186.1 L408.4 186.1 L408.6 185.9 L408.8 187.3 L409.0 187.9 L409.2 187.3 L409.4 186.9 L409.6 187.6 L409.8 187.3 L410.0 187.9 L410.2 186.4 L410.4 185.7 L410.6 186.0 L410.8 189.7 L411.0 187.1 L411.2 188.0 L411.4 188.2 L411.6 187.9 L411.8 187.8 L412.0 186.7 L412.2 186.4 L412.4 186.9 L412.6 187.4 L412.8 185.7 L413.0 188.9 L413.2 184.6 L413.4 188.7 L413.6 187.1 L413.8 187.5 L414.0 186.9 L414.2 188.1 L414.4 186.0 L414.6 187.8 L414.8 186.8 L415.0 190.0 L415.2 186.0 L415.4 188.8 L415.6 184.7 L415.8 186.0 L416.0 186.6 L416.2 187.4 L416.4 186.7 L416.6 188.1 L416.8 187.7 L417.0 187.7 L417.2 186.6 L417.4 188.4 L417.6 186.2 L417.8 186.8 L418.0 189.0 L418.2 187.4 L418.4 186.2 L418.6 185.9 L418.8 188.1 L419.0 186.4 L419.2 186.6 L419.4 186.4 L419.6 187.3 L419.8 188.6 L420.0 185.8 L420.2 188.7 L420.4 187.7 L420.6 187.1 L420.8 185.8 L421.0 185.4 L421.2 187.5 L421.4 184.6 L421.6 186.3 L421.8 186.7 L422.0 187.1 L422.2 188.4 L422.4 186.9 L422.6 189.3 L422.8 187.1 L423.0 186.2 L423.2 187.1 L423.4 186.2 L423.6 187.4 L423.8 185.8 L424.0 188.5 L424.2 188.0 L424.4 188.9 L424.6 188.8 L424.8 188.2 L425.0 188.7 L425.2 186.4 L425.4 186.6 L425.6 186.8 L425.8 187.9 L426.0 188.3 L426.2 185.3 L426.4 186.6 L426.6 186.6 L426.8 186.6 L427.0 188.9 L427.2 187.9 L427.4 186.2 L427.6 186.4 L427.8 189.4 L428.0 191.8 L428.2 187.0 L428.4 185.5 L428.6 187.2 L428.8 187.4 L429.0 187.3 L429.2 187.0 L429.4 187.5 L429.6 186.1 L429.8 187.2 L430.0 187.5 L430.2 188.7 L430.4 188.1 L430.6 189.2 L430.8 186.1 L431.0 185.9 L431.2 187.2 L431.4 187.5 L431.6 188.7 L431.8 188.6 L432.0 187.8 L432.2 188.2 L432.4 187.6 L432.6 187.6 L432.8 188.1 L433.0 189.5 L433.2 189.0 L433.4 187.0 L433.6 189.7 L433.8 187.8 L434.0 189.0 L434.2 188.1 L434.4 188.4 L434.6 188.9 L434.8 188.5 L435.0 188.6 L435.2 187.8 L435.4 186.8 L435.6 188.0 L435.8 189.0 L436.0 188.9 L436.2 187.8 L436.4 187.3 L436.6 188.0 L436.8 187.2 L437.0 190.5 L437.2 187.5 L437.4 187.1 L437.6 187.5 L437.8 187.5 L438.0 186.7 L438.2 189.5 L438.4 186.0 L438.6 187.0 L438.8 188.8 L439.0 188.1 L439.2 188.7 L439.4 188.2 L439.6 187.2 L439.8 187.8 L440.0 188.9 L440.2 186.4 L440.4 186.2 L440.6 187.5 L440.8 187.2 L441.0 188.5 L441.2 186.6 L441.4 189.6 L441.6 186.7 L441.8 187.4 L442.0 190.0 L442.2 188.5 L442.4 187.9 L442.6 188.0 L442.8 187.7 L443.0 186.7 L443.2 185.6 L443.4 190.3 L443.6 188.0 L443.8 187.7 L444.0 190.1 L444.2 188.6 L444.4 187.2 L444.6 187.1 L444.8 186.5 L445.0 187.4 L445.2 189.8 L445.4 187.4 L445.6 187.9 L445.8 188.8 L446.0 187.6 L446.2 188.1 L446.4 188.7 L446.6 186.9 L446.8 188.2 L447.0 187.6 L447.2 187.4 L447.4 188.7 L447.6 189.3 L447.8 186.9 L448.0 188.5 L448.2 188.6 L448.4 187.9 L448.6 187.3 L448.8 186.4 L449.0 189.5 L449.2 190.0 L449.4 189.7 L449.6 189.7 L449.8 190.2 L450.0 187.2 L450.2 189.9 L450.4 190.0 L450.6 189.4 L450.8 186.3 L451.0 189.5 L451.2 187.2 L451.4 188.8 L451.6 187.4 L451.8 190.1 L452.0 188.7 L452.2 188.6 L452.4 187.2 L452.6 191.1 L452.8 190.0 L453.0 186.9 L453.2 189.5 L453.4 187.4 L453.6 188.2 L453.8 188.9 L454.0 187.8 L454.2 190.6 L454.4 189.6 L454.6 188.1 L454.8 186.8 L455.0 188.5 L455.2 188.8 L455.4 189.5 L455.6 189.8 L455.8 189.1 L456.0 189.4 L456.2 188.1 L456.4 188.0 L456.6 188.0 L456.8 187.5 L457.0 188.2 L457.2 189.8 L457.4 189.2 L457.6 187.1 L457.8 189.7 L458.0 189.3 L458.2 190.1 L458.4 188.5 L458.6 189.4 L458.8 187.5 L459.0 190.0 L459.2 187.7 L459.4 188.7 L459.6 187.9 L459.8 188.3 L460.0 188.3 L460.2 188.6 L460.4 189.6 L460.6 188.2 L460.8 188.4 L461.0 190.7 L461.2 187.4 L461.4 188.0 L461.6 188.1 L461.8 189.4 L462.0 190.4 L462.2 187.7 L462.4 190.8 L462.6 188.4 L462.8 189.6 L463.0 188.2 L463.2 188.0 L463.4 187.1 L463.6 188.8 L463.8 189.1 L464.0 188.5 L464.2 189.9 L464.4 188.5 L464.6 188.3 L464.8 189.1 L465.0 188.7 L465.2 187.5 L465.4 189.1 L465.6 188.9 L465.8 190.6 L466.0 190.1 L466.2 187.5 L466.4 188.1 L466.6 188.2 L466.8 189.9 L467.0 188.6 L467.2 188.7 L467.4 188.3 L467.6 189.0 L467.8 188.4 L468.0 189.8 L468.2 188.1 L468.4 189.2 L468.6 189.5 L468.8 190.7 L469.0 189.2 L469.2 188.1 L469.4 188.4 L469.6 190.7 L469.8 188.5 L470.0 190.4 L470.2 189.9 L470.4 189.7 L470.6 188.3 L470.8 189.6 L471.0 189.0 L471.2 189.5 L471.4 188.1 L471.6 188.1 L471.8 189.2 L472.0 189.7 L472.2 188.2 L472.4 188.4 L472.6 188.2 L472.8 189.4 L473.0 187.7 L473.2 188.8 L473.4 189.6 L473.6 189.3 L473.8 187.6 L474.0 189.1 L474.2 190.9 L474.4 187.7 L474.6 187.8 L474.8 188.5 L475.0 188.2 L475.2 188.7 L475.4 190.0 L475.6 189.8 L475.8 189.3 L476.0 189.4 L476.2 188.9 L476.4 188.6 L476.6 189.1 L476.8 189.8 L477.0 188.4 L477.2 189.6 L477.4 190.5 L477.6 190.2 L477.8 187.1 L477.9 189.2 L478.1 189.1 L478.3 188.9 L478.5 190.0 L478.7 188.3 L478.9 187.5 L479.1 188.1 L479.3 189.8 L479.5 188.7 L479.7 186.7 L479.9 189.8 L480.1 188.4 L480.3 190.0 L480.5 186.7 L480.7 187.6 L480.9 190.9 L481.1 190.5 L481.3 189.6 L481.5 187.6 L481.7 189.3 L481.9 189.3 L482.1 190.5 L482.3 189.9 L482.5 189.5 L482.7 189.1 L482.9 188.6 L483.1 188.7 L483.3 188.1 L483.5 189.0 L483.7 187.4 L483.9 189.3 L484.1 187.8 L484.3 186.3 L484.5 187.8 L484.7 190.1 L484.9 188.3 L485.1 190.1 L485.3 188.8 L485.5 186.6 L485.7 190.0 L485.9 187.1 L486.1 188.4 L486.3 189.0 L486.5 190.1 L486.7 189.0 L486.9 190.0 L487.1 189.6 L487.3 189.1 L487.5 188.2 L487.7 189.7 L487.9 189.7 L488.1 189.3 L488.3 189.4 L488.5 187.4 L488.7 187.4 L488.9 188.6 L489.1 188.5 L489.3 188.4 L489.5 189.0 L489.7 189.0 L489.9 190.2 L490.1 189.4 L490.3 188.9 L490.5 188.7 L490.7 189.1 L490.9 188.5 L491.1 188.6 L491.3 190.4 L491.5 188.1 L491.7 188.8 L491.9 187.6 L492.1 187.8 L492.3 190.7 L492.5 189.7 L492.7 188.7 L492.9 189.2 L493.1 189.9 L493.3 190.8 L493.5 190.6 L493.7 188.5 L493.9 189.4 L494.1 190.9 L494.3 188.5 L494.5 188.4 L494.7 188.8 L494.9 189.5 L495.1 189.2 L495.3 189.8 L495.5 189.7 L495.7 188.3 L495.9 190.3 L496.1 188.1 L496.3 188.2 L496.5 190.3 L496.7 190.1 L496.9 189.8 L497.1 188.8 L497.3 188.7 L497.5 189.5 L497.7 188.2 L497.9 189.5 L498.1 191.2 L498.3 189.3 L498.5 188.3 L498.7 189.1 L498.9 190.2 L499.1 190.6 L499.3 189.5 L499.5 189.9 L499.7 188.8 L499.9 188.1 L500.1 189.2 L500.3 188.2 L500.5 190.2 L500.7 187.7 L500.9 189.8 L501.1 192.6 L501.3 188.5 L501.5 190.7 L501.7 187.9 L501.9 188.8 L502.1 188.7 L502.3 188.4 L502.5 190.4 L502.7 190.6 L502.9 188.9 L503.1 191.5 L503.3 188.5 L503.5 190.3 L503.7 187.9 L503.9 191.8 L504.1 190.2 L504.3 189.1 L504.5 186.5 L504.7 188.3 L504.9 188.0 L505.1 188.5 L505.3 189.5 L505.5 188.8 L505.7 190.6 L505.9 190.1 L506.1 190.3 L506.3 188.1 L506.5 190.0 L506.7 190.1 L506.9 189.2 L507.1 191.0 L507.3 189.2 L507.5 189.8 L507.7 191.2 L507.9 188.3 L508.1 188.6 L508.3 186.0 L508.5 188.7 L508.7 188.7 L508.9 188.8 L509.1 190.0 L509.3 187.1 L509.5 190.1 L509.7 189.9 L509.9 190.9 L510.1 190.5 L510.3 189.5 L510.5 191.9 L510.7 188.4 L510.9 188.4 L511.1 189.3 L511.3 189.6 L511.5 190.9 L511.7 189.8 L511.9 187.6 L512.1 190.6 L512.3 190.1 L512.5 189.8 L512.6 187.8 L512.8 190.6 L513.0 189.9 L513.2 189.6 L513.4 189.9 L513.6 189.3 L513.8 185.3 L514.0 189.8 L514.2 189.7 L514.4 189.7 L514.6 189.3 L514.8 190.3 L515.0 189.2 L515.2 189.3 L515.4 189.6 L515.6 189.6 L515.8 189.7 L516.0 187.6 L516.2 188.6 L516.4 189.3 L516.6 189.8 L516.8 190.0 L517.0 189.5 L517.2 187.8 L517.4 187.9 L517.6 190.1 L517.8 190.2 L518.0 187.8 L518.2 190.6 L518.4 188.4 L518.6 188.4 L518.8 190.2 L519.0 191.9 L519.2 189.2 L519.4 188.1 L519.6 190.9 L519.8 189.4 L520.0 190.2 L520.2 189.6 L520.4 191.3 L520.6 189.5 L520.8 189.2 L521.0 188.7 L521.2 189.8 L521.4 188.5 L521.6 187.3 L521.8 190.8 L522.0 189.6 L522.2 188.7 L522.4 189.4 L522.6 189.1 L522.8 189.1 L523.0 189.3 L523.2 190.1 L523.4 188.4 L523.6 188.6 L523.8 189.1 L524.0 189.5 L524.2 189.6 L524.4 188.1 L524.6 191.1 L524.8 190.3 L525.0 188.8 L525.2 188.5 L525.4 190.4 L525.6 190.1 L525.8 190.9 L526.0 189.3 L526.2 190.8 L526.4 190.8 L526.6 189.0 L526.8 188.1 L527.0 190.1 L527.2 190.2 L527.4 190.3 L527.6 188.8 L527.8 189.5 L528.0 188.4 L528.2 189.1 L528.4 188.6 L528.6 192.0 L528.8 190.1 L529.0 189.5 L529.2 190.6 L529.4 189.5 L529.6 188.4 L529.8 189.2 L530.0 189.9 L530.2 190.7 L530.4 190.5 L530.6 191.0 L530.8 189.1 L531.0 190.9 L531.2 188.7 L531.4 189.1 L531.6 188.4 L531.8 189.6 L532.0 188.5 L532.2 188.7 L532.4 190.0 L532.6 188.3 L532.8 190.0 L533.0 189.9 L533.2 190.3 L533.4 190.2 L533.6 188.6 L533.8 191.2 L534.0 189.5 L534.2 189.7 L534.4 188.2 L534.6 189.9 L534.8 189.3 L535.0 190.2 L535.2 190.9 L535.4 189.1 L535.6 189.4 L535.8 189.8 L536.0 188.4 L536.2 189.5 L536.4 188.9 L536.6 188.4 L536.8 190.6 L537.0 190.8 L537.2 190.7 L537.4 189.3 L537.6 190.1 L537.8 190.5 L538.0 188.2 L538.2 189.2 L538.4 189.5 L538.6 191.3 L538.8 189.5 L539.0 189.3 L539.2 189.0 L539.4 190.6 L539.6 190.2 L539.8 188.9 L540.0 190.2 L540.2 188.3 L540.4 189.3 L540.6 191.7 L540.8 189.2 L541.0 190.7 L541.2 188.5 L541.4 188.9 L541.6 190.8 L541.8 190.1 L542.0 189.1 L542.2 189.8 L542.4 191.9 L542.6 188.0 L542.8 189.5 L543.0 189.9 L543.2 191.3 L543.4 189.0 L543.6 190.5 L543.8 189.0 L544.0 188.7 L544.2 188.2 L544.4 189.3 L544.6 189.4 L544.8 189.2 L545.0 189.5 L545.2 189.2 L545.4 190.3 L545.6 189.2 L545.8 190.9 L546.0 191.4 L546.2 190.4 L546.4 190.2 L546.6 190.2 L546.8 190.6 L547.0 189.1 L547.2 191.4 L547.4 190.6 L547.6 187.7 L547.8 189.1 L548.0 188.8 L548.2 188.8 L548.4 188.6 L548.6 190.5 L548.8 189.9 L549.0 191.3 L549.2 188.3 L549.4 191.5 L549.6 190.2 L549.8 188.4 L550.0 189.2 L550.2 189.5 L550.4 189.8 L550.6 187.7 L550.8 191.3 L551.0 189.5 L551.2 190.4 L551.4 190.6 L551.6 191.2 L551.8 190.3 L552.0 189.0 L552.2 190.6 L552.4 188.2 L552.6 190.0 L552.8 192.6 L553.0 189.7 L553.2 187.3 L553.4 189.0 L553.6 190.2 L553.8 190.5 L554.0 190.1 L554.2 190.1 L554.4 187.1 L554.6 189.6 L554.8 190.4 L555.0 189.9 L555.2 190.2 L555.4 187.5 L555.6 188.9 L555.8 188.4 L556.0 190.3 L556.2 189.5 L556.4 189.7 L556.6 190.4 L556.8 188.8 L557.0 189.2 L557.2 190.0 L557.4 190.0 L557.6 190.2 L557.8 192.8 L558.0 189.6 L558.2 188.2 L558.4 189.9 L558.6 190.8 L558.8 189.8 L559.0 189.0 L559.2 190.3 L559.4 189.3 L559.6 189.9 L559.8 190.9 L560.0 192.4 L560.2 188.2 L560.4 189.2 L560.6 188.7 L560.8 189.3 L561.0 188.8 L561.2 190.7 L561.4 188.5 L561.6 188.5 L561.8 190.9 L562.0 189.1 L562.2 192.1 L562.4 189.6 L562.6 189.2 L562.8 190.7 L563.0 187.4 L563.2 189.8 L563.4 190.3 L563.6 190.0 L563.8 188.5 L564.0 190.9 L564.2 191.4 L564.4 190.5 L564.6 189.5 L564.8 190.3 L565.0 191.1 L565.2 189.4 L565.4 189.2 L565.6 190.2 L565.8 190.3 L566.0 187.8 L566.2 190.1 L566.4 189.3 L566.6 190.2 L566.8 191.6 L567.0 191.1 L567.2 188.0 L567.4 190.0 L567.6 189.4 L567.8 190.5 L568.0 189.3 L568.2 189.1 L568.4 188.6 L568.6 189.4 L568.8 189.3 L569.0 189.2 L569.2 189.7 L569.4 189.0 L569.6 188.6 L569.8 188.5 L570.0 189.6 L570.2 189.9 L570.4 189.2 L570.6 189.9 L570.8 190.0 L571.0 188.5 L571.2 190.0 L571.4 189.6 L571.6 188.5 L571.8 189.9 L572.0 190.8 L572.2 190.6 L572.4 189.4 L572.6 188.3 L572.8 190.2 L573.0 191.5 L573.2 189.6 L573.4 191.3 L573.6 190.0 L573.8 190.8 L574.0 188.5 L574.2 188.7 L574.4 189.2 L574.6 191.4 L574.8 188.3 L575.0 189.3 L575.2 189.7 L575.4 189.8 L575.6 188.2 L575.8 189.7 L576.0 188.6 L576.2 191.6 L576.4 189.4 L576.6 190.5 L576.8 191.2 L577.0 190.5 L577.2 189.7 L577.4 189.5 L577.6 187.9 L577.8 189.0 L578.0 188.9 L578.2 189.2 L578.4 191.6 L578.6 191.1 L578.8 189.7 L579.0 188.0 L579.2 188.2 L579.4 189.3 L579.6 190.7 L579.8 190.1 L580.0 189.6 L580.2 190.7 L580.4 190.6 L580.6 190.4 L580.8 189.9 L581.0 188.7 L581.2 188.4 L581.4 190.9 L581.6 191.4 L581.8 188.9 L582.0 190.5 L582.2 189.1 L582.4 189.4 L582.6 190.7 L582.8 188.5 L583.0 190.1 L583.2 189.6 L583.4 190.7 L583.6 188.1 L583.8 189.8 L584.0 190.1 L584.2 190.8 L584.4 189.3 L584.6 190.6 L584.8 190.1 L585.0 190.6 L585.2 190.7 L585.4 190.4 L585.6 188.1 L585.8 189.9 L586.0 188.9 L586.2 189.3 L586.4 188.9 L586.6 191.7 L586.8 190.2 L587.0 189.0 L587.2 189.3 L587.4 189.7 L587.6 190.0 L587.8 189.4 L588.0 188.8 L588.2 189.2 L588.4 189.2 L588.6 189.7 L588.8 188.5 L589.0 188.8 L589.2 188.7 L589.4 188.8 L589.6 190.2 L589.8 186.9 L590.0 189.6 L590.2 190.0 L590.4 188.5 L590.6 188.8 L590.8 186.9 L591.0 190.1 L591.2 191.7 L591.4 189.8 L591.6 189.2 L591.8 190.5 L592.0 189.8 L592.2 190.9 L592.4 189.4 L592.6 189.8 L592.8 188.6 L593.0 189.3 L593.2 188.7 L593.4 186.8 L593.6 190.0 L593.8 190.0 L594.0 190.4 L594.2 189.5 L594.4 189.1 L594.6 189.3 L594.8 190.0 L595.0 190.8 L595.2 190.6 L595.4 191.0 L595.6 191.0 L595.8 187.7 L596.0 189.2 L596.2 189.7 L596.4 191.7 L596.6 189.4 L596.8 191.2 L597.0 189.0 L597.2 189.4 L597.4 189.5 L597.6 190.2 L597.8 190.5 L598.0 188.6 L598.2 188.7 L598.4 192.7 L598.6 188.4 L598.8 190.2 L599.0 190.2 L599.2 188.7 L599.4 189.0 L599.6 191.8 L599.8 190.4 L600.0 190.6 L600.2 189.2 L600.4 190.6 L600.6 189.0 L600.8 190.2 L601.0 191.4 L601.2 190.0 L601.4 190.2 L601.6 188.7 L601.8 189.2 L602.0 189.9 L602.2 190.2 L602.4 188.9 L602.6 189.3 L602.8 189.3 L603.0 188.7 L603.2 188.8 L603.4 191.5 L603.6 188.9 L603.8 188.5 L604.0 190.3 L604.2 188.0 L604.4 189.0 L604.6 191.3 L604.8 189.0 L605.0 191.3 L605.2 189.4 L605.4 189.5 L605.6 190.5 L605.8 187.7 L606.0 189.9 L606.2 188.4 L606.4 189.9 L606.6 188.7 L606.8 190.7 L607.0 186.5 L607.2 192.6 L607.4 189.4 L607.6 190.9 L607.8 193.3 L608.0 189.6 L608.2 189.8 L608.4 188.9 L608.6 190.7 L608.8 191.0 L609.0 190.5 L609.2 190.2 L609.4 192.7 L609.6 187.1 L609.8 190.6 L610.0 191.1 L610.2 193.4 L610.4 188.8 L610.6 188.3 L610.8 189.4 L611.0 189.7 L611.2 188.9 L611.4 190.4 L611.6 188.0 L611.8 190.1 L612.0 191.0 L612.2 191.6 L612.4 192.5 L612.6 188.4 L612.8 190.9 L613.0 191.3 L613.2 191.4 L613.4 190.6 L613.6 190.1 L613.8 189.5 L614.0 191.0 L614.2 189.5 L614.4 190.3 L614.6 188.6 L614.8 189.9 L615.0 189.1 L615.2 189.1 L615.4 190.4 L615.6 190.2 L615.8 191.1 L616.0 188.6 L616.2 191.5 L616.4 188.9 L616.6 188.7 L616.8 190.2 L617.0 191.0 L617.2 189.4 L617.4 188.2 L617.6 186.9 L617.8 190.3 L618.0 191.7 L618.2 189.1 L618.4 187.9 L618.6 190.5 L618.8 187.3 L619.0 189.7 L619.2 189.5 L619.4 189.2 L619.6 189.9 L619.8 192.0 L620.0 191.6 L620.2 188.5 L620.4 189.4 L620.6 189.2 L620.8 192.1 L621.0 190.6 L621.2 189.4 L621.4 189.5 L621.6 190.0 L621.8 188.1 L622.0 189.6 L622.2 190.7 L622.4 188.4 L622.6 189.8 L622.8 188.4 L623.0 190.4 L623.2 190.3 L623.4 190.4 L623.6 188.1 L623.8 191.0 L624.0 190.9 L624.2 191.0 L624.4 188.6 L624.6 189.4 L624.8 189.5 L625.0 191.1 L625.2 188.8 L625.4 188.5 L625.6 189.7 L625.8 190.1 L626.0 190.0 L626.2 189.8 L626.4 190.3 L626.5 191.0 L626.7 189.1 L626.9 191.5 L627.1 191.0 L627.3 188.3 L627.5 192.3 L627.7 190.1 L627.9 189.2 L628.1 191.0 L628.3 191.5 L628.5 189.1 L628.7 191.3 L628.9 189.6 L629.1 190.0 L629.3 188.9 L629.5 189.9 L629.7 189.8 L629.9 189.1 L630.1 190.9 L630.3 190.3 L630.5 190.5 L630.7 190.8 L630.9 190.0 L631.1 190.2 L631.3 190.1 L631.5 190.2 L631.7 190.6 L631.9 192.9 L632.1 189.2 L632.3 190.4 L632.5 189.2 L632.7 188.5 L632.9 190.5 L633.1 191.7 L633.3 191.6 L633.5 190.9 L633.7 189.8 L633.9 188.9 L634.1 189.6 L634.3 188.9 L634.5 188.5 L634.7 190.5 L634.9 190.7 L635.1 189.8 L635.3 188.7 L635.5 191.6 L635.7 188.7 L635.9 191.1 L636.1 191.2 L636.3 189.8 L636.5 190.1 L636.7 189.6 L636.9 189.4 L637.1 189.7 L637.3 190.3 L637.5 188.5 L637.7 189.5 L637.9 189.8 L638.1 190.1 L638.3 189.1 L638.5 191.1 L638.7 192.6 L638.9 189.0 L639.1 189.2 L639.3 187.8 L639.5 187.9 L639.7 188.1 L639.9 190.4 L640.1 191.2 L640.3 190.6 L640.5 190.1 L640.7 190.1 L640.9 187.5 L641.1 189.1 L641.3 191.1 L641.5 190.0 L641.7 191.3 L641.9 191.0 L642.1 188.5 L642.3 186.4 L642.5 192.9 L642.7 188.9 L642.9 188.4 L643.1 190.3 L643.3 189.0 L643.5 190.9 L643.7 188.7 L643.9 191.7 L644.1 189.0 L644.3 191.4 L644.5 188.8 L644.7 190.9 L644.9 189.2 L645.1 189.4 L645.3 188.7 L645.5 188.2 L645.7 191.0 L645.9 189.9 L646.1 190.4 L646.3 190.2 L646.5 189.1 L646.7 191.1 L646.9 188.2 L647.1 189.7 L647.3 190.5 L647.5 189.2 L647.7 189.8 L647.9 189.7 L648.1 190.0 L648.3 189.1 L648.5 190.1 L648.7 191.6 L648.9 188.3 L649.1 189.7 L649.3 189.4 L649.5 189.6 L649.7 190.2 L649.9 191.2 L650.1 191.0 L650.3 189.3 L650.5 190.3 L650.7 189.1 L650.9 189.4 L651.1 191.8 L651.3 192.6 L651.5 189.3 L651.7 189.7 L651.9 190.4 L652.1 188.2 L652.3 190.0 L652.5 189.7 L652.7 190.4 L652.9 189.7 L653.1 189.3 L653.3 191.1 L653.5 189.4 L653.7 190.0 L653.9 188.9 L654.1 188.1 L654.3 188.5 L654.5 190.8 L654.7 190.1 L654.9 188.8 L655.1 190.4 L655.3 190.0 L655.5 190.9 L655.7 188.5 L655.9 191.5 L656.1 191.0 L656.3 190.9 L656.5 190.9 L656.7 190.4 L656.9 189.4 L657.1 189.7 L657.3 190.0 L657.5 189.9 L657.7 191.2 L657.9 191.4 L658.1 189.6 L658.3 190.3 L658.5 188.7 L658.7 191.3 L658.9 189.2 L659.1 190.0 L659.3 189.7 L659.5 190.0 L659.7 189.7 L659.9 188.4 L660.1 188.6 L660.3 189.5 L660.5 189.8 L660.7 190.4 L660.9 190.5 L661.1 191.8 L661.3 190.4 L661.5 188.8 L661.7 189.2 L661.9 190.3 L662.1 188.3 L662.3 189.6 L662.5 190.7 L662.7 190.3 L662.9 191.3 L663.1 191.0 L663.3 189.2 L663.5 189.8 L663.7 192.3 L663.9 191.5 L664.1 190.1 L664.3 188.4 L664.5 187.9 L664.7 191.1 L664.9 191.9 L665.1 190.1 L665.3 191.4 L665.5 190.5 L665.7 190.4 L665.9 189.7 L666.1 190.0 L666.3 189.5 L666.5 191.8 L666.7 188.2 L666.9 190.8 L667.1 191.4 L667.3 189.5 L667.5 189.1 L667.7 189.3 L667.9 191.3 L668.1 189.0 L668.3 190.7 L668.5 188.7 L668.6 190.7 L668.8 190.3 L669.0 190.0 L669.2 188.2 L669.4 190.8 L669.6 190.1 L669.8 188.8 L670.0 189.1 L670.2 189.6 L670.4 190.1 L670.6 189.3 L670.8 189.6 L671.0 190.2 L671.2 189.5 L671.4 189.9 L671.6 190.7 L671.8 189.2 L672.0 190.7 L672.2 189.1 L672.4 190.2 L672.6 191.4 L672.8 186.9 L673.0 191.3 L673.2 190.0 L673.4 188.9 L673.6 189.3 L673.8 190.7 L674.0 188.8 L674.2 188.7 L674.4 189.6 L674.6 188.6 L674.8 189.9 L675.0 190.4 L675.2 189.8 L675.4 190.0 L675.6 188.7 L675.8 189.9 L676.0 189.8 L676.2 191.0 L676.4 189.5 L676.6 190.2 L676.8 188.9 L677.0 190.3 L677.2 190.0 L677.4 189.9 L677.6 188.6 L677.8 191.4 L678.0 191.0 L678.2 192.5 L678.4 190.7 L678.6 189.1 L678.8 189.8 L679.0 189.8 L679.2 189.4 L679.4 189.5 L679.6 187.5 L679.8 189.5 L680.0 188.2 L680.2 190.3 L680.4 190.9 L680.6 188.8 L680.8 189.9 L681.0 190.0 L681.2 190.7 L681.4 189.2 L681.6 189.9 L681.8 189.4 L682.0 188.9 L682.2 189.3 L682.4 190.1 L682.6 190.0 L682.8 189.1 L683.0 189.0 L683.2 189.0 L683.4 189.7 L683.6 190.5 L683.8 190.3 L684.0 190.9 L684.2 190.7 L684.4 189.6 L684.6 189.8 L684.8 190.6 L685.0 191.1 L685.2 188.1 L685.4 191.4 L685.6 190.6 L685.8 189.2 L686.0 190.5 L686.2 189.4 L686.4 189.4 L686.6 190.2 L686.8 190.1 L687.0 188.3 L687.2 190.4 L687.4 190.0 L687.6 189.6 L687.8 190.2 L688.0 190.5 L688.2 189.6 L688.4 190.4 L688.6 191.1 L688.8 189.7 L689.0 189.5 L689.2 189.1 L689.4 190.5 L689.6 189.9" stroke="#ED7D31" stroke-width="2.1"/>
<path d="M65.1 256.5 L66.5 255.8 L67.9 254.7 L69.7 254.7 L71.6 255.3 L73.4 255.3 L75.2 255.5 L77.0 255.5 L78.9 255.5 L80.7 255.3 L82.5 255.7 L84.3 255.6 L86.2 255.9 L88.0 255.6 L89.9 255.8 L91.7 256.0 L93.5 255.5 L95.4 255.5 L97.2 254.7 L99.1 254.5 L100.9 254.2 L102.7 254.0 L104.6 253.9 L106.4 254.2 L108.3 253.8 L110.1 253.7 L111.9 253.8 L113.8 253.4 L115.6 253.7 L117.5 253.5 L119.3 253.2 L121.1 253.4 L122.9 253.1 L124.8 253.0 L126.6 253.2 L128.4 253.1 L130.3 252.5 L132.1 252.9 L134.0 252.7 L135.7 253.0 L137.3 254.8 L139.3 253.5 L141.3 252.8 L142.9 251.4 L144.6 250.7 L145.7 251.7 L146.8 252.7 L148.7 252.8 L150.5 252.2 L152.0 251.9 L153.6 251.4 L155.1 250.6 L156.4 251.6 L157.8 253.0 L159.7 252.0 L161.5 250.9 L163.3 250.0 L165.2 249.3 L166.6 250.6 L167.9 251.5 L169.7 249.4 L171.6 248.9 L173.0 249.5 L174.4 250.3 L175.8 249.2 L177.1 248.0 L178.5 248.1 L179.9 247.7 L181.0 245.7 L182.1 243.7 L183.3 234.1 L184.4 219.9 L184.7 204.9 L185.1 185.0 L185.5 160.3 L186.2 134.7 L186.9 160.0 L187.2 185.0 L187.4 205.0 L187.9 223.1 L188.6 237.5 L189.5 239.3 L190.6 233.4 L191.7 232.8 L192.6 238.6 L193.7 246.6 L195.2 250.7 L196.4 249.8 L197.6 249.6 L198.8 249.3 L199.9 249.5 L201.1 244.7 L201.9 230.8 L202.7 215.4 L203.4 213.4 L204.2 217.3 L205.0 230.7 L205.6 245.0 L206.9 246.1 L208.1 245.9 L209.2 249.5 L210.7 251.9 L212.6 252.4 L214.6 252.3 L216.2 252.8 L217.7 253.1 L219.3 253.3 L220.4 253.4 L221.6 253.2 L223.6 249.9 L224.9 250.9 L226.3 251.9 L227.7 251.2 L229.0 250.0 L230.5 251.6 L232.0 253.5 L234.0 253.1 L235.9 253.5 L237.9 253.8 L239.9 253.9 L241.7 254.1 L243.5 253.3 L245.3 253.4 L247.1 252.9 L248.9 253.0 L250.8 254.2 L252.6 254.3 L254.5 255.1 L256.4 255.4 L258.3 255.5 L260.2 255.3 L262.1 255.6 L264.0 255.5 L265.9 255.5 L267.7 255.7 L269.6 256.0 L271.5 255.6 L273.3 255.9 L275.1 255.7 L276.9 255.5 L278.7 255.3 L280.5 255.5 L282.4 255.5 L284.4 255.0 L286.3 255.2 L288.3 255.0 L290.2 255.1 L292.2 254.9 L294.1 254.7 L296.0 254.9 L297.9 255.2 L299.8 255.0 L301.6 255.4 L303.5 255.1 L305.4 255.8 L307.1 255.4 L308.8 255.3 L310.5 255.2 L312.2 254.9 L314.1 255.0 L316.1 254.9 L318.0 254.7 L319.9 254.6 L321.8 255.2 L323.8 254.6 L325.7 254.6 L327.6 254.9 L329.6 254.7 L331.5 255.0 L333.5 255.1 L335.4 255.1 L337.4 255.1 L339.3 255.4 L341.2 255.5 L343.1 255.2 L345.0 255.4 L346.8 255.4 L348.7 255.2 L350.6 255.5 L352.5 255.3 L354.5 255.8 L356.4 255.6 L358.4 256.1 L360.3 256.1 L362.3 256.2 L364.2 256.0 L366.0 256.4 L367.8 256.0 L369.6 256.6 L371.4 256.2 L373.2 256.1 L375.0 256.0 L377.0 256.2 L378.9 256.1 L380.9 256.1 L382.9 256.2 L384.9 256.0 L386.8 256.4 L388.8 255.8 L390.8 255.8 L392.8 256.2 L394.7 256.1 L396.7 255.9 L398.7 255.9 L400.7 256.0 L402.6 256.4 L404.6 256.3 L406.6 255.9 L408.6 256.0 L410.5 256.3 L412.5 256.0 L414.5 256.1 L416.4 256.2 L418.4 256.3 L420.4 256.4 L422.4 256.2 L424.3 256.2 L426.3 256.4 L428.3 256.7 L430.3 256.5 L432.2 256.3 L434.2 256.6 L436.2 256.4 L438.2 256.1 L440.1 256.6 L442.1 256.8 L444.1 256.3 L446.1 256.6 L448.0 256.3 L450.0 256.5 L452.0 256.5 L454.0 256.5 L456.0 256.5 L458.0 256.7 L460.0 256.5 L462.0 256.5 L464.0 256.5 L466.0 256.7 L468.0 256.5 L470.0 256.8 L472.0 256.7 L474.0 256.6 L476.0 256.4 L478.0 256.6 L480.0 256.9 L482.0 256.9 L484.0 256.7 L486.0 257.2 L488.0 257.1 L490.0 256.9 L492.0 257.1 L494.0 256.8 L496.0 256.8 L498.0 256.9 L500.0 256.5 L502.0 256.9 L504.0 256.8 L506.0 257.2 L508.0 257.0 L510.0 257.2 L512.0 256.9 L514.0 257.2 L516.0 257.0 L518.0 257.1 L520.0 257.1 L522.0 256.8 L524.0 257.2 L526.0 256.9 L528.0 257.2 L530.0 257.1 L532.0 256.9 L534.0 257.0 L536.0 257.2 L538.0 257.1 L540.0 257.5 L542.0 257.4 L544.0 257.2 L546.0 257.1 L548.0 257.5 L550.0 257.2 L552.0 257.4 L554.0 256.9 L556.0 256.8 L557.9 257.4 L559.9 257.4 L561.9 257.2 L563.9 257.2 L565.9 257.3 L567.9 257.3 L569.9 257.2 L571.8 257.2 L573.8 257.3 L575.8 257.4 L577.8 257.4 L579.8 256.7 L581.8 257.3 L583.8 257.2 L585.7 257.5 L587.7 257.4 L589.7 257.2 L591.7 257.2 L593.7 256.8 L595.7 257.2 L597.7 257.1 L599.6 257.3 L601.6 257.1 L603.6 257.5 L605.6 257.5 L607.6 257.2 L609.6 257.1 L611.6 257.5 L613.5 257.0 L615.5 257.2 L617.5 257.2 L619.5 257.4 L621.5 257.3 L623.5 257.1 L625.5 257.5 L627.4 257.4 L629.4 257.4 L631.4 257.6 L633.4 257.7 L635.4 257.4 L637.4 257.2 L639.4 257.3 L641.3 257.3 L643.3 257.1 L645.3 257.2 L647.3 257.2 L649.3 257.4 L651.3 257.5 L653.3 256.9 L655.2 257.0 L657.2 257.2 L659.2 257.2 L661.2 257.4 L663.2 257.0 L665.2 257.3 L667.2 257.4 L669.1 257.5 L671.1 257.3 L673.1 257.5 L675.1 257.5 L677.1 257.3 L679.1 257.2 L681.1 257.3 L683.0 257.5 L685.0 257.5 L687.0 257.1 L689.0 257.1" stroke="#FFC000" stroke-width="1.85"/>
<path d="M65.1 311.0 L65.3 309.2 L65.5 310.4 L65.7 310.1 L65.9 311.4 L66.1 310.0 L66.3 311.9 L66.5 310.0 L66.7 311.5 L66.9 310.4 L67.1 310.3 L67.3 311.4 L67.5 310.4 L67.7 310.5 L67.9 309.7 L68.1 309.7 L68.3 310.2 L68.4 310.6 L68.6 309.8 L68.8 310.3 L69.0 311.0 L69.2 312.0 L69.4 311.2 L69.6 309.9 L69.8 310.3 L70.0 310.6 L70.2 311.2 L70.4 311.0 L70.6 310.4 L70.8 309.2 L71.0 309.5 L71.2 309.6 L71.4 311.4 L71.6 310.2 L71.8 309.9 L72.0 311.4 L72.2 310.5 L72.4 309.8 L72.6 310.9 L72.8 311.7 L73.0 311.2 L73.2 310.1 L73.4 311.8 L73.6 311.0 L73.8 311.2 L74.0 311.4 L74.2 311.2 L74.4 311.4 L74.6 312.1 L74.8 310.8 L75.0 310.7 L75.1 309.9 L75.3 311.5 L75.5 311.6 L75.7 311.0 L75.9 309.1 L76.1 310.8 L76.3 311.1 L76.5 310.3 L76.7 311.5 L76.9 309.2 L77.1 310.0 L77.3 310.7 L77.5 311.1 L77.7 311.4 L77.9 311.2 L78.1 310.3 L78.3 311.9 L78.5 311.1 L78.7 312.8 L78.9 310.9 L79.1 311.2 L79.3 310.2 L79.5 310.8 L79.7 311.0 L79.9 311.3 L80.1 311.0 L80.3 310.2 L80.5 311.2 L80.7 310.8 L80.9 310.6 L81.1 310.2 L81.3 312.6 L81.5 310.7 L81.7 311.1 L81.9 310.2 L82.1 310.9 L82.3 310.3 L82.5 311.0 L82.7 310.0 L82.9 311.8 L83.1 311.0 L83.3 310.4 L83.5 309.6 L83.7 310.6 L83.9 311.2 L84.1 310.2 L84.3 309.7 L84.5 311.4 L84.7 310.7 L84.9 310.4 L85.1 312.4 L85.3 311.6 L85.5 311.0 L85.7 310.7 L85.9 311.4 L86.0 310.0 L86.2 311.1 L86.4 311.6 L86.6 309.8 L86.8 310.9 L87.0 311.1 L87.2 311.2 L87.4 310.5 L87.6 309.4 L87.8 311.4 L88.0 311.1 L88.2 310.8 L88.4 311.5 L88.6 309.7 L88.8 311.5 L89.0 311.5 L89.2 310.4 L89.4 312.4 L89.6 311.4 L89.8 310.8 L90.0 311.1 L90.2 312.2 L90.4 311.3 L90.6 311.3 L90.8 311.4 L91.0 310.4 L91.2 310.3 L91.4 310.7 L91.6 312.4 L91.8 310.8 L92.0 309.4 L92.2 311.9 L92.4 311.8 L92.6 311.2 L92.8 311.4 L93.0 311.8 L93.2 309.3 L93.4 311.8 L93.6 309.6 L93.8 311.3 L94.0 309.6 L94.2 310.6 L94.4 310.3 L94.6 311.1 L94.8 310.9 L95.0 311.6 L95.2 310.7 L95.4 310.6 L95.6 311.7 L95.8 310.6 L96.0 310.8 L96.2 309.9 L96.4 311.6 L96.6 310.5 L96.8 310.6 L97.0 309.3 L97.2 311.6 L97.4 309.9 L97.6 311.5 L97.7 312.3 L97.9 310.7 L98.1 312.6 L98.3 311.2 L98.5 311.7 L98.7 310.7 L98.9 310.4 L99.1 310.7 L99.3 309.5 L99.5 312.3 L99.7 312.0 L99.9 313.0 L100.1 310.1 L100.3 311.6 L100.5 311.2 L100.7 311.0 L100.9 309.9 L101.1 311.2 L101.3 311.2 L101.5 310.3 L101.7 311.9 L101.9 310.3 L102.1 309.2 L102.3 309.9 L102.5 311.0 L102.7 310.1 L102.9 311.1 L103.1 310.4 L103.3 310.1 L103.5 308.9 L103.7 311.6 L103.9 309.8 L104.1 310.3 L104.3 310.1 L104.5 308.9 L104.7 309.7 L104.9 311.9 L105.1 311.3 L105.3 307.8 L105.5 309.3 L105.6 310.6 L105.8 310.8 L106.0 309.2 L106.2 311.5 L106.4 309.7 L106.6 309.5 L106.8 309.6 L107.0 309.2 L107.2 311.1 L107.4 309.4 L107.6 311.6 L107.8 311.7 L108.0 309.8 L108.2 309.6 L108.4 310.7 L108.6 308.9 L108.8 308.9 L109.0 310.0 L109.2 310.0 L109.4 307.8 L109.6 310.2 L109.8 308.8 L110.0 308.5 L110.2 310.9 L110.4 309.4 L110.6 310.5 L110.8 309.1 L111.0 311.9 L111.2 310.0 L111.4 311.5 L111.6 310.7 L111.8 308.9 L112.0 310.5 L112.2 310.9 L112.4 310.6 L112.6 310.7 L112.8 312.9 L113.0 310.0 L113.2 312.0 L113.4 310.2 L113.6 310.1 L113.8 310.8 L114.0 310.1 L114.2 310.7 L114.4 312.0 L114.6 310.5 L114.8 308.6 L115.0 309.1 L115.2 310.4 L115.4 312.0 L115.6 309.6 L115.8 311.0 L116.0 309.8 L116.2 310.3 L116.4 309.5 L116.6 309.0 L116.8 309.5 L117.0 311.3 L117.2 309.4 L117.3 310.7 L117.5 308.7 L117.7 309.2 L117.9 310.8 L118.1 311.2 L118.3 312.0 L118.5 311.0 L118.7 309.4 L118.9 310.0 L119.1 309.1 L119.3 309.4 L119.5 309.6 L119.7 310.7 L119.9 310.1 L120.1 310.5 L120.3 310.3 L120.5 310.2 L120.7 312.3 L120.9 310.5 L121.1 309.7 L121.3 309.8 L121.5 308.6 L121.7 309.6 L121.9 308.6 L122.1 308.9 L122.3 309.0 L122.5 310.5 L122.7 311.0 L122.9 309.7 L123.1 310.7 L123.3 310.3 L123.5 311.2 L123.7 309.4 L123.9 310.4 L124.1 310.6 L124.3 309.7 L124.5 308.5 L124.7 310.6 L124.9 308.1 L125.1 310.0 L125.3 308.6 L125.5 311.0 L125.7 307.3 L125.9 308.9 L126.1 309.4 L126.3 308.3 L126.5 308.6 L126.7 309.8 L126.9 310.2 L127.1 311.1 L127.3 310.5 L127.5 309.8 L127.7 311.0 L127.9 308.7 L128.1 309.2 L128.3 309.4 L128.5 307.8 L128.7 308.0 L128.9 311.0 L129.1 309.2 L129.3 308.8 L129.5 309.3 L129.7 308.4 L129.9 310.9 L130.1 307.3 L130.3 307.6 L130.5 310.2 L130.7 308.8 L130.9 310.3 L131.1 308.8 L131.3 307.3 L131.5 308.9 L131.7 308.8 L131.9 308.8 L132.1 309.4 L132.3 310.4 L132.5 311.5 L132.7 309.4 L132.9 308.9 L133.1 311.3 L133.3 308.3 L133.5 308.9 L133.7 307.9 L133.9 307.7 L134.1 307.4 L134.3 309.2 L134.5 311.3 L134.7 309.0 L134.9 308.9 L135.1 310.6 L135.3 308.4 L135.5 307.5 L135.7 309.3 L135.9 309.5 L136.1 308.9 L136.3 307.5 L136.5 310.9 L136.7 309.9 L136.9 309.9 L137.1 310.5 L137.3 308.9 L137.5 308.5 L137.7 307.5 L137.9 309.6 L138.1 307.1 L138.3 310.3 L138.5 307.7 L138.7 307.0 L138.9 306.5 L139.1 308.7 L139.3 307.5 L139.5 305.9 L139.7 307.9 L139.9 306.7 L140.1 308.3 L140.3 307.7 L140.5 311.1 L140.7 307.2 L140.9 310.8 L141.1 307.9 L141.3 308.7 L141.5 308.0 L141.7 307.9 L141.9 308.5 L142.1 308.4 L142.3 307.1 L142.5 310.1 L142.7 307.5 L142.9 309.3 L143.1 308.4 L143.3 308.1 L143.5 309.8 L143.7 308.0 L143.9 310.6 L144.1 309.5 L144.3 309.7 L144.5 309.1 L144.7 310.2 L144.9 307.5 L145.1 308.5 L145.2 309.6 L145.4 309.0 L145.6 308.8 L145.8 309.8 L146.0 308.7 L146.2 308.3 L146.4 309.6 L146.6 309.0 L146.8 308.7 L147.0 307.5 L147.2 306.4 L147.4 309.3 L147.6 308.8 L147.8 306.6 L148.0 308.7 L148.2 308.6 L148.4 308.0 L148.6 309.8 L148.8 307.6 L149.0 310.7 L149.2 306.7 L149.4 306.8 L149.6 308.3 L149.8 309.3 L150.0 310.7 L150.2 307.2 L150.4 306.6 L150.6 307.6 L150.8 308.2 L151.0 307.5 L151.2 307.8 L151.4 306.1 L151.6 310.1 L151.8 307.2 L152.0 304.2 L152.2 306.0 L152.4 307.2 L152.6 306.2 L152.8 310.0 L153.0 309.3 L153.2 308.0 L153.4 310.5 L153.6 307.5 L153.8 304.5 L154.0 307.7 L154.2 308.9 L154.4 308.6 L154.6 306.6 L154.8 307.4 L155.0 308.0 L155.2 308.8 L155.4 308.8 L155.6 305.8 L155.8 309.2 L156.0 306.1 L156.2 304.0 L156.4 308.2 L156.6 306.9 L156.8 308.5 L157.0 306.8 L157.2 303.9 L157.4 307.5 L157.6 307.2 L157.8 306.8 L158.0 308.0 L158.2 305.6 L158.4 306.3 L158.6 307.3 L158.8 307.4 L159.0 304.9 L159.2 309.8 L159.4 308.7 L159.6 307.6 L159.8 307.4 L160.0 307.9 L160.2 307.8 L160.4 307.9 L160.6 309.3 L160.8 305.6 L161.0 307.6 L161.2 306.4 L161.3 307.7 L161.5 305.4 L161.7 307.5 L161.9 307.7 L162.1 305.9 L162.3 306.0 L162.5 304.7 L162.7 308.2 L162.9 305.5 L163.1 306.0 L163.3 307.6 L163.5 306.6 L163.7 306.2 L163.9 307.3 L164.1 308.2 L164.3 303.8 L164.5 304.3 L164.7 307.3 L164.9 308.5 L165.1 306.2 L165.3 307.6 L165.5 308.2 L165.7 306.8 L165.9 303.7 L166.1 306.7 L166.3 305.8 L166.5 307.0 L166.7 306.5 L166.9 307.6 L167.1 306.1 L167.3 304.0 L167.5 304.5 L167.7 305.3 L167.9 305.1 L168.1 307.6 L168.3 307.5 L168.5 307.1 L168.7 305.3 L168.9 306.5 L169.1 305.1 L169.3 305.9 L169.5 305.2 L169.7 307.0 L169.9 305.9 L170.1 307.2 L170.3 305.7 L170.5 303.5 L170.7 304.2 L170.9 306.4 L171.1 307.5 L171.3 307.8 L171.5 305.2 L171.7 303.9 L171.9 306.3 L172.1 301.0 L172.3 306.9 L172.5 305.6 L172.7 303.9 L172.9 305.1 L173.1 302.2 L173.3 305.7 L173.5 307.3 L173.7 302.0 L173.9 305.4 L174.1 304.6 L174.3 305.4 L174.5 306.3 L174.7 303.4 L174.9 303.0 L175.1 305.4 L175.3 303.1 L175.5 303.9 L175.7 305.9 L175.9 303.4 L176.1 303.1 L176.3 303.4 L176.5 301.4 L176.7 305.9 L176.9 307.1 L177.1 305.7 L177.2 302.5 L177.4 302.4 L177.6 303.6 L177.8 304.0 L178.0 302.6 L178.2 300.0 L178.4 303.6 L178.6 303.6 L178.8 303.0 L179.0 304.6 L179.2 305.0 L179.4 303.8 L179.6 300.8 L179.8 304.0 L180.0 303.4 L180.2 305.1 L180.4 301.0 L180.6 300.6 L180.8 302.0 L181.0 306.8 L181.2 301.1 L181.4 302.7 L181.6 301.6 L181.8 302.5 L181.9 305.3 L182.1 303.5 L182.3 300.0 L182.5 303.7 L182.7 300.2 L182.8 299.7 L183.0 296.9 L183.2 295.4 L183.3 295.8 L183.5 289.0 L183.7 284.1 L183.9 279.7 L184.1 277.9 L184.3 277.5 L184.4 276.0 L184.6 275.4 L184.8 274.6 L185.0 275.9 L185.1 272.9 L185.3 271.2 L185.5 271.6 L185.7 270.0 L185.9 270.1 L186.1 268.9 L186.3 269.5 L186.5 269.4 L186.7 270.8 L186.8 271.3 L187.0 272.0 L187.2 274.4 L187.3 277.0 L187.5 279.5 L187.7 284.1 L187.8 288.0 L188.0 293.1 L188.1 296.2 L188.3 304.7 L188.4 306.3 L188.6 304.6 L188.8 304.5 L189.0 305.6 L189.2 301.3 L189.4 306.7 L189.6 303.3 L189.8 300.5 L189.9 301.0 L190.1 297.3 L190.3 300.2 L190.5 297.4 L190.7 299.0 L190.9 297.8 L191.1 298.8 L191.3 297.4 L191.5 296.8 L191.7 303.2 L191.9 298.5 L192.1 299.9 L192.3 299.7 L192.5 299.8 L192.7 298.9 L192.9 303.6 L193.1 301.2 L193.3 303.3 L193.5 306.6 L193.7 305.6 L193.9 306.7 L194.1 304.3 L194.3 302.1 L194.4 304.5 L194.6 305.0 L194.8 303.5 L195.0 303.9 L195.2 303.7 L195.4 303.5 L195.6 305.2 L195.8 305.0 L196.0 303.4 L196.2 304.4 L196.4 305.1 L196.6 304.8 L196.8 305.1 L197.0 304.5 L197.2 304.4 L197.4 305.1 L197.6 305.2 L197.8 306.8 L198.0 304.7 L198.2 307.1 L198.4 306.1 L198.6 308.1 L198.8 305.8 L199.0 306.8 L199.2 302.3 L199.4 303.9 L199.6 303.9 L199.8 303.8 L200.0 301.9 L200.2 304.4 L200.4 303.2 L200.6 300.5 L200.8 301.7 L201.0 301.8 L201.2 300.6 L201.4 300.0 L201.5 300.5 L201.7 301.3 L201.9 298.3 L202.1 298.0 L202.3 298.9 L202.5 296.0 L202.7 293.5 L202.9 298.4 L203.1 296.2 L203.3 294.7 L203.4 297.4 L203.6 296.9 L203.8 297.0 L204.0 296.0 L204.2 297.4 L204.4 298.0 L204.6 297.9 L204.8 299.7 L205.0 297.4 L205.2 299.7 L205.4 303.4 L205.6 300.0 L205.8 301.5 L206.0 300.4 L206.2 303.6 L206.4 300.5 L206.6 303.4 L206.8 303.4 L207.0 301.6 L207.2 304.8 L207.3 306.1 L207.5 306.5 L207.7 306.5 L207.9 310.8 L208.1 307.4 L208.3 308.2 L208.5 309.6 L208.7 310.1 L208.9 308.0 L209.1 309.6 L209.3 309.0 L209.5 307.3 L209.7 307.8 L209.9 308.6 L210.1 306.2 L210.3 308.2 L210.4 307.7 L210.6 307.2 L210.8 309.9 L211.0 305.7 L211.2 308.9 L211.4 308.9 L211.6 305.9 L211.8 307.7 L212.0 309.3 L212.2 311.0 L212.4 307.8 L212.6 308.1 L212.8 306.7 L213.0 308.7 L213.2 308.7 L213.4 306.6 L213.6 307.3 L213.8 310.6 L214.0 306.9 L214.2 309.7 L214.4 308.2 L214.6 310.7 L214.7 308.8 L214.9 307.9 L215.1 305.8 L215.3 308.4 L215.5 308.1 L215.7 304.6 L215.9 309.9 L216.1 308.8 L216.3 309.9 L216.5 308.3 L216.7 312.4 L216.9 307.6 L217.1 310.9 L217.3 309.8 L217.5 309.0 L217.7 307.4 L217.9 310.8 L218.1 307.3 L218.3 308.2 L218.5 308.9 L218.7 309.7 L218.9 311.6 L219.1 308.8 L219.3 309.2 L219.5 309.4 L219.7 309.2 L219.9 310.0 L220.1 308.9 L220.3 310.0 L220.5 308.8 L220.7 307.1 L220.8 308.3 L221.0 308.6 L221.2 312.0 L221.4 311.0 L221.6 310.4 L221.8 310.1 L222.0 310.1 L222.2 309.4 L222.4 310.8 L222.6 311.4 L222.8 311.7 L223.0 309.8 L223.2 309.6 L223.4 309.2 L223.6 309.7 L223.8 310.1 L224.0 309.8 L224.2 309.4 L224.4 309.5 L224.6 310.0 L224.8 311.1 L225.0 312.7 L225.2 309.3 L225.4 310.1 L225.6 308.6 L225.8 309.9 L226.0 309.9 L226.2 312.1 L226.4 310.2 L226.6 309.9 L226.8 311.8 L227.0 309.4 L227.2 310.3 L227.4 310.8 L227.6 309.1 L227.8 310.0 L228.0 311.7 L228.2 309.8 L228.4 308.9 L228.6 309.0 L228.8 309.9 L229.0 312.9 L229.2 310.3 L229.4 311.0 L229.6 312.8 L229.8 309.8 L230.0 308.2 L230.2 311.7 L230.4 310.9 L230.6 311.9 L230.8 310.8 L231.0 309.0 L231.2 309.1 L231.4 310.2 L231.6 310.9 L231.8 310.5 L232.0 312.3 L232.2 311.2 L232.4 311.5 L232.6 310.1 L232.8 308.5 L233.0 310.0 L233.2 310.0 L233.4 311.0 L233.6 310.2 L233.8 309.8 L234.0 311.2 L234.2 309.6 L234.4 311.9 L234.6 313.2 L234.8 312.1 L235.0 312.9 L235.2 309.7 L235.4 309.9 L235.6 309.3 L235.8 309.9 L236.0 312.8 L236.2 310.5 L236.4 312.8 L236.6 313.6 L236.8 310.3 L237.0 310.0 L237.2 311.4 L237.4 311.0 L237.6 311.0 L237.8 311.3 L238.0 312.4 L238.2 311.3 L238.4 310.3 L238.6 312.9 L238.8 312.6 L239.0 311.0 L239.2 312.0 L239.4 310.0 L239.6 312.1 L239.8 313.1 L240.0 310.5 L240.2 310.9 L240.4 309.9 L240.6 312.0 L240.8 311.6 L241.0 312.1 L241.2 310.5 L241.4 309.1 L241.6 311.6 L241.8 311.1 L242.0 310.8 L242.2 311.6 L242.4 311.7 L242.6 312.9 L242.8 311.0 L243.0 312.0 L243.2 311.4 L243.4 312.9 L243.6 312.4 L243.8 311.8 L244.0 311.3 L244.2 312.3 L244.4 309.8 L244.6 310.3 L244.8 309.9 L245.0 311.2 L245.2 310.4 L245.4 312.6 L245.6 311.1 L245.8 309.4 L246.0 313.5 L246.2 311.1 L246.4 311.2 L246.6 309.6 L246.8 309.7 L247.0 310.4 L247.2 310.1 L247.4 311.3 L247.6 311.9 L247.8 311.5 L248.0 310.8 L248.2 312.5 L248.4 311.0 L248.6 312.1 L248.8 313.1 L249.0 312.1 L249.2 312.4 L249.4 312.9 L249.6 312.5 L249.8 311.4 L250.0 311.6 L250.2 310.3 L250.4 310.8 L250.6 310.2 L250.8 313.1 L251.0 311.9 L251.2 311.8 L251.4 312.3 L251.6 312.0 L251.8 310.8 L252.0 310.9 L252.2 310.5 L252.4 310.4 L252.6 311.8 L252.8 312.3 L253.0 311.1 L253.2 312.2 L253.4 311.7 L253.6 311.8 L253.8 313.3 L254.0 311.4 L254.2 312.4 L254.4 312.6 L254.6 312.3 L254.8 310.6 L255.0 313.5 L255.2 311.0 L255.4 310.2 L255.6 313.6 L255.8 310.4 L256.0 311.5 L256.2 310.8 L256.4 311.0 L256.6 311.3 L256.8 311.4 L257.0 311.9 L257.2 310.5 L257.4 311.3 L257.6 312.0 L257.8 311.2 L258.0 313.2 L258.2 310.8 L258.4 310.8 L258.6 312.2 L258.8 312.4 L259.0 312.1 L259.2 311.3 L259.4 312.5 L259.6 313.3 L259.8 311.9 L260.0 312.0 L260.2 310.9 L260.4 309.8 L260.6 311.0 L260.8 311.4 L261.0 312.3 L261.2 313.0 L261.4 313.1 L261.6 309.2 L261.8 310.1 L262.0 312.9 L262.2 311.9 L262.4 310.5 L262.6 316.0 L262.8 311.3 L263.0 311.2 L263.2 310.2 L263.4 312.3 L263.6 311.0 L263.8 311.0 L264.0 311.0 L264.2 310.8 L264.4 312.7 L264.6 313.0 L264.8 312.8 L265.0 312.7 L265.2 311.7 L265.4 313.2 L265.6 310.7 L265.8 310.5 L266.0 311.7 L266.2 312.6 L266.4 312.8 L266.6 312.1 L266.8 311.4 L267.0 312.7 L267.2 312.9 L267.4 311.9 L267.6 310.9 L267.8 311.8 L268.0 311.3 L268.2 311.2 L268.4 310.2 L268.6 311.9 L268.8 311.9 L269.0 312.1 L269.2 311.3 L269.4 312.5 L269.6 312.5 L269.8 313.3 L270.0 313.2 L270.2 313.8 L270.4 310.9 L270.6 311.9 L270.8 310.8 L271.0 313.3 L271.2 312.0 L271.4 311.8 L271.6 311.5 L271.8 311.4 L272.0 312.5 L272.2 314.2 L272.4 313.1 L272.6 312.4 L272.8 312.0 L273.0 312.4 L273.2 312.5 L273.4 312.7 L273.6 311.7 L273.8 311.4 L274.0 312.7 L274.2 310.6 L274.4 311.1 L274.6 312.6 L274.8 313.6 L275.0 311.1 L275.2 310.9 L275.4 312.8 L275.6 312.8 L275.8 309.4 L276.0 313.5 L276.2 311.2 L276.4 312.0 L276.6 312.0 L276.8 312.3 L277.0 312.1 L277.2 311.7 L277.4 312.1 L277.6 312.7 L277.8 312.3 L278.0 309.8 L278.2 312.1 L278.4 312.0 L278.6 312.8 L278.8 310.6 L279.0 311.2 L279.2 311.1 L279.4 310.8 L279.6 311.1 L279.8 312.3 L280.0 311.3 L280.2 311.4 L280.4 310.7 L280.6 312.1 L280.8 311.9 L281.0 313.1 L281.2 312.2 L281.4 312.0 L281.6 312.1 L281.8 311.3 L282.0 312.7 L282.2 313.5 L282.4 311.1 L282.6 312.3 L282.8 311.6 L283.0 312.7 L283.2 310.3 L283.4 311.0 L283.6 313.0 L283.8 310.8 L284.0 312.4 L284.2 311.5 L284.4 312.6 L284.6 313.4 L284.8 311.7 L285.0 311.6 L285.2 311.5 L285.4 313.0 L285.6 312.6 L285.8 313.6 L286.0 311.1 L286.2 312.0 L286.4 313.9 L286.6 314.3 L286.8 313.0 L287.0 312.1 L287.2 312.4 L287.4 311.9 L287.6 311.9 L287.8 312.0 L288.0 310.8 L288.2 312.7 L288.4 311.8 L288.6 312.2 L288.8 312.8 L289.0 313.2 L289.2 311.3 L289.4 312.2 L289.6 312.3 L289.8 311.4 L290.0 313.2 L290.2 312.0 L290.4 312.6 L290.6 313.4 L290.8 310.8 L291.0 311.4 L291.2 311.7 L291.4 313.0 L291.6 310.9 L291.8 312.5 L292.0 312.6 L292.2 312.3 L292.4 311.8 L292.6 313.2 L292.8 312.0 L293.0 313.8 L293.2 313.5 L293.4 313.4 L293.6 311.9 L293.8 311.1 L294.0 311.8 L294.2 311.1 L294.4 312.2 L294.6 312.0 L294.8 313.0 L295.0 314.9 L295.2 314.4 L295.4 310.8 L295.6 311.4 L295.8 311.8 L296.0 311.0 L296.2 310.5 L296.4 313.1 L296.6 310.5 L296.8 311.1 L297.0 314.4 L297.2 312.3 L297.4 312.6 L297.6 313.6 L297.8 313.2 L298.0 312.3 L298.2 312.3 L298.4 311.4 L298.6 310.8 L298.8 312.7 L299.0 312.0 L299.2 312.0 L299.4 311.2 L299.6 312.5 L299.8 311.6 L300.0 311.5 L300.2 311.2 L300.4 312.3 L300.6 312.3 L300.8 312.5 L301.0 312.6 L301.2 312.0 L301.4 311.4 L301.6 310.5 L301.8 311.9 L302.0 312.4 L302.2 312.1 L302.4 311.4 L302.6 312.2 L302.8 311.9 L303.0 312.2 L303.2 312.8 L303.4 312.6 L303.6 312.5 L303.8 314.1 L304.0 312.6 L304.2 312.1 L304.4 312.8 L304.6 313.4 L304.8 313.0 L305.0 313.3 L305.2 312.3 L305.4 312.6 L305.6 312.1 L305.8 311.3 L306.0 311.2 L306.2 315.2 L306.4 312.6 L306.6 313.3 L306.8 311.3 L307.0 312.9 L307.2 311.6 L307.4 312.0 L307.6 314.4 L307.8 312.7 L308.0 314.2 L308.2 313.4 L308.4 311.9 L308.6 311.8 L308.8 312.3 L309.0 313.1 L309.2 313.7 L309.4 313.9 L309.6 312.1 L309.8 311.1 L310.0 312.7 L310.2 311.5 L310.4 312.5 L310.6 313.5 L310.8 312.9 L311.0 313.6 L311.2 312.6 L311.4 312.7 L311.6 312.1 L311.8 312.6 L312.0 313.5 L312.2 313.9 L312.4 312.7 L312.6 313.3 L312.8 312.8 L313.0 312.1 L313.2 313.4 L313.4 311.5 L313.6 312.1 L313.8 312.4 L314.0 313.5 L314.2 310.8 L314.4 313.2 L314.6 312.6 L314.8 313.2 L315.0 315.0 L315.2 311.0 L315.4 312.9 L315.6 314.1 L315.8 311.3 L316.0 311.7 L316.2 310.8 L316.4 312.9 L316.6 313.0 L316.8 312.4 L317.0 311.2 L317.2 313.1 L317.4 312.6 L317.6 310.9 L317.8 313.2 L318.0 311.3 L318.2 313.5 L318.4 311.7 L318.6 312.1 L318.8 312.0 L319.0 313.2 L319.2 313.8 L319.4 311.6 L319.6 312.4 L319.8 313.4 L320.0 313.0 L320.2 313.7 L320.4 311.9 L320.6 313.0 L320.8 312.3 L321.0 313.5 L321.2 310.8 L321.4 310.8 L321.6 312.9 L321.8 314.4 L322.0 312.8 L322.2 313.3 L322.4 314.6 L322.6 313.6 L322.8 312.9 L323.0 312.3 L323.2 311.6 L323.4 313.0 L323.6 312.8 L323.8 313.2 L324.0 311.4 L324.2 312.1 L324.4 313.6 L324.6 313.5 L324.8 312.5 L325.0 313.2 L325.2 311.3 L325.4 313.8 L325.6 312.8 L325.8 311.6 L326.0 312.0 L326.2 311.1 L326.4 312.5 L326.6 313.5 L326.8 314.7 L327.0 311.4 L327.2 312.8 L327.4 313.4 L327.6 314.0 L327.8 313.1 L328.0 312.1 L328.2 313.2 L328.4 310.8 L328.6 313.1 L328.8 311.6 L329.0 312.8 L329.2 312.5 L329.4 311.8 L329.6 312.8 L329.8 310.5 L330.0 312.0 L330.2 313.2 L330.4 310.9 L330.6 312.6 L330.8 312.8 L331.0 313.8 L331.2 313.6 L331.4 312.1 L331.6 313.3 L331.8 312.9 L332.0 312.3 L332.2 312.8 L332.4 314.3 L332.6 312.1 L332.8 313.4 L333.0 313.1 L333.2 311.9 L333.4 311.6 L333.6 312.0 L333.8 312.2 L334.0 313.0 L334.2 314.1 L334.4 311.9 L334.6 311.6 L334.8 312.5 L335.0 313.5 L335.2 312.6 L335.4 311.5 L335.6 312.8 L335.8 312.8 L336.0 314.1 L336.2 312.2 L336.4 312.6 L336.6 313.7 L336.8 314.5 L337.0 311.9 L337.2 314.0 L337.4 312.1 L337.6 311.7 L337.8 312.6 L338.0 313.8 L338.2 312.4 L338.4 311.6 L338.6 312.6 L338.8 313.3 L339.0 311.4 L339.2 314.2 L339.4 313.3 L339.6 311.7 L339.8 313.3 L340.0 314.2 L340.2 312.6 L340.4 312.5 L340.6 312.9 L340.8 312.3 L341.0 312.2 L341.2 312.6 L341.4 312.4 L341.6 312.4 L341.8 312.6 L342.0 314.0 L342.2 312.8 L342.4 312.8 L342.6 313.0 L342.8 313.2 L343.0 311.7 L343.2 312.1 L343.4 312.1 L343.6 313.3 L343.8 312.9 L344.0 313.1 L344.2 312.7 L344.4 312.9 L344.6 313.1 L344.8 314.5 L345.0 312.9 L345.2 313.7 L345.4 314.1 L345.6 312.8 L345.8 311.5 L346.0 313.6 L346.2 313.4 L346.4 313.6 L346.6 312.1 L346.8 312.7 L347.0 312.3 L347.2 312.7 L347.4 313.0 L347.6 312.7 L347.8 312.8 L348.0 313.0 L348.2 312.1 L348.4 313.2 L348.6 313.2 L348.8 314.0 L349.0 313.9 L349.2 313.4 L349.4 313.3 L349.6 312.9 L349.8 314.6 L350.0 312.1 L350.2 312.9 L350.4 310.3 L350.6 314.8 L350.8 313.9 L351.0 312.4 L351.2 315.1 L351.4 313.2 L351.6 313.1 L351.8 312.5 L352.0 312.0 L352.2 312.3 L352.4 312.2 L352.6 312.7 L352.8 313.1 L353.0 313.4 L353.2 312.2 L353.4 309.0 L353.6 312.4 L353.8 313.4 L354.0 312.7 L354.2 312.1 L354.4 312.4 L354.6 312.3 L354.8 313.4 L355.0 313.6 L355.2 312.2 L355.4 314.4 L355.6 312.6 L355.8 313.8 L356.0 313.8 L356.2 313.3 L356.4 313.0 L356.6 312.8 L356.8 313.4 L357.0 312.7 L357.2 312.9 L357.4 311.5 L357.6 314.4 L357.8 311.8 L358.0 314.6 L358.2 314.2 L358.4 312.2 L358.6 311.6 L358.8 313.2 L359.0 312.7 L359.2 313.6 L359.4 310.8 L359.6 313.9 L359.8 315.2 L360.0 313.2 L360.2 312.6 L360.4 313.0 L360.6 313.2 L360.8 313.9 L361.0 311.0 L361.2 313.9 L361.4 314.4 L361.6 313.6 L361.8 313.5 L362.0 311.7 L362.2 312.1 L362.4 311.9 L362.6 312.5 L362.8 313.7 L363.0 313.8 L363.2 311.9 L363.4 312.8 L363.6 312.9 L363.8 312.9 L364.0 313.9 L364.2 312.4 L364.4 311.9 L364.6 314.0 L364.8 312.6 L365.0 313.1 L365.2 313.3 L365.4 311.6 L365.6 311.8 L365.8 313.9 L366.0 313.8 L366.2 312.5 L366.4 311.9 L366.6 312.3 L366.8 313.5 L367.0 312.7 L367.2 313.0 L367.4 312.2 L367.6 313.3 L367.8 313.4 L368.0 314.0 L368.2 313.7 L368.4 314.1 L368.6 311.8 L368.8 312.5 L369.0 311.8 L369.2 312.2 L369.4 312.6 L369.6 313.9 L369.8 312.7 L370.0 312.9 L370.2 313.1 L370.4 313.5 L370.6 311.3 L370.8 312.4 L371.0 312.2 L371.2 312.5 L371.4 313.3 L371.6 314.0 L371.8 312.2 L372.0 314.2 L372.2 312.7 L372.4 313.1 L372.6 312.9 L372.8 313.8 L373.0 312.5 L373.2 313.6 L373.4 314.8 L373.6 311.5 L373.8 311.5 L374.0 312.9 L374.2 312.4 L374.4 312.6 L374.6 313.4 L374.8 314.3 L375.0 312.3 L375.2 312.9 L375.4 313.8 L375.6 312.2 L375.8 312.4 L376.0 313.2 L376.2 313.9 L376.4 313.0 L376.6 312.5 L376.8 313.1 L377.0 314.9 L377.2 312.6 L377.4 313.7 L377.6 313.7 L377.8 313.2 L378.0 311.4 L378.2 311.7 L378.4 313.3 L378.6 312.7 L378.8 312.8 L379.0 313.3 L379.2 312.7 L379.4 313.6 L379.6 313.7 L379.8 312.0 L380.0 312.8 L380.2 311.2 L380.4 313.8 L380.6 313.8 L380.8 313.4 L381.0 312.1 L381.2 312.2 L381.4 314.3 L381.6 313.8 L381.8 311.7 L382.0 313.4 L382.2 312.5 L382.4 312.9 L382.6 315.0 L382.8 314.5 L383.0 312.5 L383.2 312.1 L383.4 314.3 L383.6 313.9 L383.8 313.2 L384.0 313.1 L384.2 314.3 L384.4 314.2 L384.6 312.6 L384.8 312.0 L385.0 312.8 L385.2 313.1 L385.4 312.6 L385.6 312.2 L385.8 311.8 L386.0 312.7 L386.2 313.9 L386.4 313.4 L386.6 312.8 L386.8 314.1 L387.0 312.3 L387.2 312.9 L387.4 314.5 L387.6 313.2 L387.8 312.9 L388.0 312.4 L388.2 313.9 L388.4 312.5 L388.6 312.4 L388.8 312.6 L389.0 312.4 L389.2 312.8 L389.4 313.2 L389.6 312.6 L389.8 311.7 L390.0 314.2 L390.2 313.6 L390.4 312.5 L390.6 314.0 L390.8 313.9 L391.0 312.8 L391.2 312.1 L391.4 314.3 L391.6 312.5 L391.8 311.9 L392.0 311.9 L392.2 314.1 L392.4 311.5 L392.6 313.0 L392.8 312.8 L393.0 312.8 L393.2 313.2 L393.4 315.0 L393.6 312.6 L393.8 314.3 L394.0 312.6 L394.2 314.0 L394.4 312.6 L394.6 312.3 L394.8 313.6 L395.0 313.0 L395.2 315.1 L395.4 313.4 L395.6 313.5 L395.8 312.0 L396.0 313.1 L396.2 311.5 L396.4 313.9 L396.6 313.0 L396.8 311.6 L397.0 313.3 L397.2 315.1 L397.4 313.8 L397.6 313.8 L397.8 312.6 L398.0 312.4 L398.2 312.8 L398.4 313.0 L398.6 313.5 L398.8 311.6 L399.0 313.9 L399.2 313.2 L399.4 312.3 L399.6 313.3 L399.8 312.3 L400.0 311.9 L400.2 313.0 L400.4 313.7 L400.6 313.3 L400.8 312.7 L401.0 312.0 L401.2 312.1 L401.4 313.3 L401.6 312.8 L401.8 312.9 L402.0 313.4 L402.2 312.9 L402.4 314.9 L402.6 314.4 L402.8 312.1 L403.0 313.5 L403.2 312.7 L403.4 312.6 L403.6 313.5 L403.8 313.4 L404.0 313.3 L404.2 313.2 L404.4 313.3 L404.6 311.9 L404.8 313.3 L405.0 314.6 L405.2 312.7 L405.4 313.0 L405.6 314.2 L405.8 314.2 L406.0 311.8 L406.2 313.0 L406.4 313.3 L406.6 314.1 L406.8 313.3 L407.0 311.2 L407.2 313.2 L407.4 313.7 L407.6 314.5 L407.8 314.4 L408.0 313.0 L408.2 313.1 L408.4 312.9 L408.6 314.1 L408.8 313.2 L409.0 313.2 L409.2 313.8 L409.4 312.4 L409.6 313.3 L409.8 313.1 L410.0 311.9 L410.2 313.7 L410.4 314.0 L410.6 315.7 L410.8 314.7 L411.0 313.7 L411.2 311.8 L411.4 312.9 L411.6 313.8 L411.8 312.2 L412.0 313.8 L412.2 314.0 L412.4 313.4 L412.6 314.3 L412.8 312.9 L413.0 313.7 L413.2 314.4 L413.4 313.0 L413.6 314.7 L413.8 313.6 L414.0 312.6 L414.2 313.3 L414.4 312.8 L414.6 313.0 L414.8 312.0 L415.0 314.1 L415.2 314.2 L415.4 313.7 L415.6 313.7 L415.8 314.2 L416.0 314.4 L416.2 311.9 L416.4 314.5 L416.6 312.9 L416.8 314.4 L417.0 314.4 L417.2 312.3 L417.4 311.5 L417.6 313.9 L417.8 311.0 L418.0 312.4 L418.2 313.2 L418.4 314.7 L418.6 312.8 L418.8 314.9 L419.0 314.2 L419.2 312.9 L419.4 313.5 L419.6 313.3 L419.8 310.8 L420.0 313.7 L420.2 312.6 L420.4 314.8 L420.6 312.3 L420.8 314.8 L421.0 315.9 L421.2 315.4 L421.4 312.5 L421.6 314.1 L421.8 314.8 L422.0 315.3 L422.2 312.3 L422.4 314.3 L422.6 312.3 L422.8 312.3 L423.0 313.3 L423.2 313.5 L423.4 313.5 L423.6 314.6 L423.8 313.5 L424.0 313.9 L424.2 314.3 L424.4 313.9 L424.6 313.2 L424.8 314.5 L425.0 313.5 L425.2 314.3 L425.4 313.2 L425.6 313.1 L425.8 313.9 L426.0 313.7 L426.2 314.1 L426.4 313.6 L426.6 312.8 L426.8 312.2 L427.0 313.6 L427.2 314.5 L427.4 313.5 L427.6 313.6 L427.8 313.5 L428.0 313.7 L428.2 312.6 L428.4 313.3 L428.6 313.3 L428.8 313.6 L429.0 313.5 L429.2 314.0 L429.4 314.2 L429.6 312.9 L429.8 313.3 L430.0 312.1 L430.2 311.9 L430.4 314.3 L430.6 312.3 L430.8 313.3 L431.0 313.2 L431.2 314.2 L431.4 313.0 L431.6 315.3 L431.8 313.0 L432.0 313.3 L432.2 314.6 L432.4 314.6 L432.6 314.5 L432.8 313.3 L433.0 314.2 L433.2 313.7 L433.4 313.2 L433.6 314.5 L433.8 314.4 L434.0 314.7 L434.2 312.6 L434.4 312.4 L434.6 314.2 L434.8 315.0 L435.0 313.3 L435.2 314.6 L435.4 312.4 L435.6 315.8 L435.8 314.2 L436.0 315.4 L436.2 314.2 L436.4 312.7 L436.6 313.9 L436.8 313.9 L437.0 312.5 L437.2 314.8 L437.4 314.2 L437.6 313.9 L437.8 314.9 L438.0 313.1 L438.2 314.0 L438.4 312.8 L438.6 315.6 L438.8 312.1 L439.0 313.7 L439.2 314.3 L439.4 313.1 L439.6 312.2 L439.8 312.4 L440.0 313.6 L440.2 313.0 L440.4 314.1 L440.6 315.6 L440.8 312.5 L441.0 313.3 L441.2 313.5 L441.4 316.7 L441.6 313.6 L441.8 312.8 L442.0 315.6 L442.2 313.2 L442.4 314.5 L442.6 313.3 L442.8 312.9 L443.0 315.0 L443.2 314.6 L443.4 312.7 L443.6 313.7 L443.8 314.0 L444.0 313.8 L444.2 313.2 L444.4 313.3 L444.6 313.7 L444.8 314.1 L445.0 315.9 L445.2 313.7 L445.4 312.5 L445.6 314.8 L445.8 314.2 L446.0 314.5 L446.2 312.7 L446.4 314.3 L446.6 314.1 L446.8 313.5 L447.0 314.5 L447.2 314.1 L447.4 315.0 L447.6 314.1 L447.8 314.2 L448.0 312.8 L448.2 313.8 L448.4 315.2 L448.6 311.5 L448.8 315.9 L449.0 314.2 L449.2 313.4 L449.4 313.7 L449.6 314.8 L449.8 313.1 L450.0 314.2 L450.2 313.7 L450.4 312.7 L450.6 315.5 L450.8 313.2 L451.0 313.3 L451.2 313.3 L451.4 313.7 L451.6 313.8 L451.8 314.0 L452.0 313.9 L452.2 313.5 L452.4 314.1 L452.6 313.4 L452.8 314.2 L453.0 313.6 L453.2 313.5 L453.4 315.5 L453.6 313.7 L453.8 313.9 L454.0 311.6 L454.2 313.8 L454.4 313.3 L454.6 313.6 L454.8 313.7 L455.0 315.6 L455.2 313.7 L455.4 312.7 L455.6 313.1 L455.8 312.8 L456.0 314.0 L456.2 313.9 L456.4 315.4 L456.6 314.9 L456.8 314.2 L457.0 314.6 L457.2 313.3 L457.4 314.6 L457.6 313.7 L457.8 313.1 L458.0 315.3 L458.2 315.0 L458.4 313.8 L458.6 313.5 L458.8 315.2 L459.0 313.9 L459.2 313.7 L459.4 314.8 L459.6 313.6 L459.8 314.2 L460.0 313.5 L460.2 313.6 L460.4 314.4 L460.6 313.5 L460.8 314.8 L461.0 313.5 L461.2 312.7 L461.4 313.2 L461.6 315.6 L461.8 314.2 L462.0 313.9 L462.2 314.4 L462.4 313.9 L462.6 314.2 L462.8 314.5 L463.0 312.8 L463.2 314.6 L463.4 314.0 L463.6 315.9 L463.8 312.8 L464.0 315.1 L464.2 313.4 L464.4 315.1 L464.6 314.7 L464.8 312.7 L465.0 313.6 L465.2 314.5 L465.4 313.1 L465.6 314.0 L465.8 314.6 L466.0 314.3 L466.2 312.2 L466.4 315.7 L466.6 314.3 L466.8 315.0 L467.0 314.9 L467.2 312.2 L467.4 314.6 L467.6 313.0 L467.8 314.6 L468.0 315.5 L468.2 313.3 L468.4 315.3 L468.6 315.9 L468.8 314.5 L469.0 314.3 L469.2 312.9 L469.4 315.3 L469.6 314.1 L469.8 312.7 L470.0 314.3 L470.2 313.1 L470.4 314.1 L470.6 313.0 L470.8 313.4 L471.0 315.9 L471.2 314.1 L471.4 313.9 L471.6 316.4 L471.8 314.1 L472.0 314.2 L472.2 315.3 L472.4 314.3 L472.6 315.0 L472.8 313.8 L473.0 314.5 L473.2 314.2 L473.4 313.2 L473.6 314.5 L473.8 312.5 L474.0 315.1 L474.2 313.9 L474.4 315.3 L474.6 315.6 L474.8 314.2 L475.0 314.5 L475.2 313.0 L475.4 315.1 L475.6 313.7 L475.8 314.7 L476.0 313.7 L476.2 314.1 L476.4 313.5 L476.6 315.4 L476.8 315.3 L477.0 314.4 L477.2 314.1 L477.4 313.9 L477.6 313.9 L477.8 313.1 L478.0 312.9 L478.2 314.3 L478.4 315.6 L478.6 315.1 L478.8 315.0 L479.0 313.6 L479.2 314.2 L479.4 313.6 L479.6 313.7 L479.8 313.8 L480.0 313.4 L480.2 314.8 L480.4 313.4 L480.6 314.7 L480.8 314.0 L481.0 313.9 L481.2 314.6 L481.4 314.7 L481.6 313.0 L481.8 314.4 L482.0 312.5 L482.2 314.9 L482.4 314.9 L482.6 314.3 L482.8 315.4 L483.0 314.2 L483.2 313.0 L483.4 312.8 L483.6 314.1 L483.8 313.8 L484.0 314.0 L484.2 313.3 L484.4 314.6 L484.6 313.3 L484.8 315.2 L485.0 315.3 L485.2 313.8 L485.4 314.4 L485.6 315.7 L485.8 313.3 L486.0 315.7 L486.2 314.6 L486.4 316.0 L486.6 314.8 L486.8 314.6 L487.0 314.6 L487.2 314.2 L487.4 313.7 L487.6 313.2 L487.8 314.9 L488.0 314.1 L488.2 315.2 L488.4 313.5 L488.6 313.9 L488.8 313.8 L489.0 314.6 L489.2 315.2 L489.4 315.4 L489.6 314.5 L489.8 314.2 L490.0 314.2 L490.2 314.2 L490.4 313.7 L490.6 314.1 L490.8 314.6 L491.0 314.9 L491.2 314.0 L491.4 314.9 L491.6 312.6 L491.8 314.2 L492.0 315.6 L492.2 313.8 L492.4 314.3 L492.6 315.2 L492.8 315.0 L493.0 313.7 L493.2 314.2 L493.4 314.1 L493.6 313.3 L493.8 314.9 L494.0 312.1 L494.2 314.4 L494.4 315.1 L494.6 313.4 L494.8 313.8 L495.0 313.6 L495.2 314.7 L495.4 315.9 L495.6 315.6 L495.8 312.6 L496.0 314.0 L496.2 312.7 L496.4 314.6 L496.6 314.7 L496.8 314.4 L497.0 313.1 L497.2 314.3 L497.4 315.0 L497.6 314.1 L497.8 315.7 L498.0 314.1 L498.2 314.3 L498.4 314.0 L498.6 315.4 L498.8 314.0 L499.0 314.5 L499.2 315.3 L499.4 313.8 L499.6 314.5 L499.8 313.6 L500.0 315.7 L500.2 315.6 L500.4 314.5 L500.6 313.7 L500.8 313.7 L501.0 315.9 L501.2 314.0 L501.4 315.2 L501.6 313.2 L501.8 313.9 L502.0 314.4 L502.2 314.5 L502.4 314.3 L502.6 314.0 L502.8 314.2 L503.0 315.4 L503.2 314.6 L503.4 314.5 L503.6 313.9 L503.8 314.2 L504.0 315.0 L504.2 314.7 L504.4 314.9 L504.6 315.0 L504.8 315.2 L505.0 314.0 L505.2 314.7 L505.4 314.1 L505.6 313.6 L505.8 314.2 L506.0 314.9 L506.2 313.2 L506.4 315.3 L506.6 313.1 L506.8 313.1 L507.0 317.2 L507.2 314.1 L507.4 314.7 L507.6 314.5 L507.8 313.6 L508.0 314.2 L508.2 314.5 L508.4 314.7 L508.6 314.3 L508.8 315.6 L509.0 314.3 L509.2 315.1 L509.4 314.3 L509.6 314.6 L509.8 314.2 L510.0 313.5 L510.2 314.5 L510.4 315.5 L510.6 312.9 L510.8 314.2 L511.0 313.3 L511.2 314.0 L511.4 314.8 L511.6 314.3 L511.8 314.0 L512.0 315.4 L512.2 314.4 L512.4 313.1 L512.6 313.1 L512.8 314.5 L513.0 314.5 L513.2 314.2 L513.4 313.4 L513.6 314.4 L513.8 314.8 L514.0 314.8 L514.2 315.0 L514.4 313.5 L514.6 315.1 L514.8 314.0 L515.0 314.6 L515.2 313.9 L515.4 311.8 L515.6 315.0 L515.8 313.2 L516.0 313.6 L516.2 314.9 L516.4 313.2 L516.6 315.0 L516.8 315.6 L517.0 315.5 L517.2 314.4 L517.4 313.2 L517.6 314.9 L517.8 314.7 L518.0 315.0 L518.2 315.0 L518.4 313.0 L518.6 314.1 L518.8 313.6 L519.0 313.9 L519.2 313.3 L519.4 314.5 L519.6 314.0 L519.8 313.2 L520.0 314.6 L520.2 314.4 L520.4 315.3 L520.6 313.7 L520.8 314.4 L521.0 313.1 L521.2 313.7 L521.4 314.5 L521.6 314.6 L521.8 314.4 L522.0 313.9 L522.2 315.1 L522.4 314.1 L522.6 316.1 L522.8 314.4 L523.0 314.4 L523.2 314.1 L523.4 314.3 L523.6 313.9 L523.8 314.8 L524.0 315.0 L524.2 314.6 L524.4 314.5 L524.6 313.2 L524.8 313.3 L525.0 314.6 L525.2 313.5 L525.4 315.7 L525.6 314.7 L525.8 315.2 L526.0 314.4 L526.2 314.4 L526.4 315.3 L526.6 313.1 L526.8 314.5 L527.0 314.7 L527.2 313.9 L527.4 313.6 L527.6 313.7 L527.8 315.1 L528.0 315.0 L528.2 313.1 L528.4 315.2 L528.6 314.7 L528.8 314.4 L529.0 313.8 L529.2 312.1 L529.4 314.9 L529.6 315.7 L529.8 315.3 L530.0 313.7 L530.2 315.2 L530.4 314.4 L530.6 314.5 L530.8 314.0 L531.0 315.2 L531.2 314.0 L531.4 313.5 L531.6 313.9 L531.8 314.1 L532.0 314.9 L532.2 315.4 L532.4 315.4 L532.6 312.8 L532.8 314.6 L533.0 315.1 L533.2 313.7 L533.4 315.3 L533.6 314.3 L533.8 312.8 L534.0 313.5 L534.2 313.9 L534.4 314.7 L534.6 313.9 L534.8 313.9 L535.0 315.1 L535.2 315.2 L535.4 315.6 L535.6 313.3 L535.8 315.5 L536.0 315.0 L536.2 313.9 L536.4 313.7 L536.6 313.7 L536.8 314.7 L537.0 314.7 L537.2 315.4 L537.4 315.0 L537.6 314.4 L537.8 315.0 L538.0 315.0 L538.2 314.2 L538.4 315.1 L538.6 314.9 L538.8 314.3 L539.0 314.7 L539.2 314.5 L539.4 314.3 L539.6 314.4 L539.8 314.3 L540.0 314.9 L540.2 316.2 L540.4 314.3 L540.6 315.4 L540.8 315.3 L541.0 314.1 L541.2 315.0 L541.4 313.6 L541.6 315.5 L541.8 314.4 L542.0 314.8 L542.2 313.6 L542.4 312.6 L542.6 315.8 L542.8 313.7 L543.0 313.1 L543.2 314.0 L543.4 313.9 L543.6 314.4 L543.8 314.0 L544.0 314.3 L544.2 313.9 L544.4 313.4 L544.6 317.0 L544.8 313.9 L545.0 315.2 L545.2 314.9 L545.4 314.3 L545.6 313.5 L545.8 314.4 L546.0 312.8 L546.2 315.0 L546.4 314.0 L546.6 314.4 L546.8 312.8 L547.0 314.3 L547.2 314.9 L547.4 313.9 L547.6 316.6 L547.8 314.7 L548.0 316.1 L548.2 314.3 L548.4 315.3 L548.6 314.7 L548.8 315.1 L549.0 312.6 L549.2 314.1 L549.4 315.6 L549.6 314.7 L549.8 314.1 L550.0 315.4 L550.2 314.3 L550.4 313.6 L550.6 315.2 L550.8 315.4 L551.0 315.8 L551.2 313.6 L551.4 315.1 L551.6 313.9 L551.8 314.8 L552.0 312.6 L552.2 315.5 L552.4 314.5 L552.6 314.2 L552.8 312.3 L553.0 313.6 L553.2 313.1 L553.4 314.0 L553.6 314.1 L553.8 315.6 L554.0 314.3 L554.2 314.8 L554.4 313.0 L554.6 313.5 L554.8 313.8 L555.0 313.6 L555.2 314.6 L555.4 316.4 L555.6 314.2 L555.8 314.7 L556.0 315.4 L556.2 315.4 L556.4 315.1 L556.6 314.6 L556.8 315.4 L557.0 315.0 L557.2 314.6 L557.4 314.2 L557.6 313.3 L557.8 313.9 L558.0 315.2 L558.2 314.4 L558.4 315.4 L558.6 314.5 L558.8 312.4 L559.0 315.0 L559.2 313.2 L559.4 313.6 L559.6 316.1 L559.8 315.7 L560.0 313.5 L560.2 314.4 L560.4 317.3 L560.6 315.5 L560.8 314.2 L561.0 316.0 L561.2 312.4 L561.4 315.2 L561.6 315.7 L561.8 313.4 L562.0 315.0 L562.2 314.3 L562.4 315.1 L562.6 313.2 L562.8 314.4 L563.0 315.2 L563.2 314.7 L563.4 314.4 L563.6 313.6 L563.8 314.1 L564.0 314.7 L564.2 314.3 L564.4 312.9 L564.6 313.7 L564.8 313.8 L565.0 313.6 L565.2 314.1 L565.4 315.8 L565.6 315.6 L565.8 314.4 L566.0 314.4 L566.2 314.6 L566.4 316.6 L566.6 314.7 L566.8 313.3 L567.0 314.4 L567.2 315.3 L567.4 314.9 L567.6 313.6 L567.8 313.2 L568.0 315.8 L568.2 315.1 L568.4 314.0 L568.6 313.5 L568.8 315.2 L569.0 314.8 L569.2 315.3 L569.4 313.9 L569.6 312.7 L569.8 315.2 L570.0 314.8 L570.2 315.8 L570.4 314.4 L570.6 314.1 L570.8 313.7 L571.0 312.8 L571.2 313.5 L571.4 315.5 L571.6 311.9 L571.8 317.6 L572.0 314.1 L572.2 313.5 L572.4 315.4 L572.6 314.8 L572.8 314.7 L573.0 314.3 L573.2 314.0 L573.4 313.9 L573.6 312.7 L573.8 314.9 L574.0 315.7 L574.2 313.3 L574.4 312.7 L574.6 314.0 L574.8 316.5 L575.0 313.7 L575.2 314.5 L575.4 315.5 L575.6 316.6 L575.8 314.5 L576.0 314.1 L576.2 314.3 L576.4 314.1 L576.6 312.0 L576.8 314.5 L577.0 313.1 L577.2 314.0 L577.4 314.9 L577.6 315.5 L577.8 313.6 L578.0 314.3 L578.2 313.8 L578.4 314.5 L578.6 314.5 L578.8 314.6 L579.0 315.2 L579.2 314.4 L579.4 314.4 L579.6 313.8 L579.8 314.6 L580.0 313.7 L580.2 313.1 L580.4 314.2 L580.6 314.6 L580.8 313.8 L581.0 314.0 L581.2 313.8 L581.4 313.2 L581.6 315.0 L581.8 313.7 L582.0 313.7 L582.2 316.5 L582.4 315.5 L582.6 315.1 L582.8 313.5 L583.0 315.8 L583.2 314.4 L583.4 313.5 L583.6 315.0 L583.8 313.6 L584.0 315.5 L584.2 315.0 L584.4 314.9 L584.6 314.7 L584.8 314.6 L585.0 313.2 L585.2 313.7 L585.4 313.0 L585.6 314.4 L585.8 314.8 L586.0 314.3 L586.2 314.4 L586.4 314.6 L586.6 314.7 L586.8 313.6 L587.0 314.0 L587.2 315.8 L587.4 315.4 L587.6 314.8 L587.8 313.7 L588.0 315.2 L588.2 313.6 L588.4 315.3 L588.6 313.5 L588.8 313.9 L589.0 315.3 L589.2 314.5 L589.4 313.1 L589.6 313.4 L589.8 315.2 L590.0 314.5 L590.2 315.1 L590.4 314.4 L590.6 315.1 L590.8 314.2 L591.0 314.5 L591.2 315.0 L591.4 313.9 L591.6 313.3 L591.8 314.8 L592.0 314.4 L592.2 314.9 L592.4 314.0 L592.6 313.9 L592.8 314.5 L593.0 314.5 L593.2 313.9 L593.4 314.5 L593.6 313.7 L593.8 313.7 L594.0 314.1 L594.2 312.6 L594.4 314.7 L594.6 315.4 L594.8 314.3 L595.0 314.7 L595.2 313.0 L595.4 314.6 L595.6 315.2 L595.8 314.0 L596.0 314.5 L596.2 313.7 L596.4 314.2 L596.6 314.4 L596.8 315.0 L597.0 315.3 L597.2 313.4 L597.4 313.6 L597.6 313.4 L597.8 314.9 L598.0 313.1 L598.2 313.3 L598.4 314.3 L598.6 314.9 L598.8 314.4 L599.0 313.7 L599.2 315.4 L599.4 311.5 L599.6 314.8 L599.8 314.6 L600.0 314.5 L600.2 314.9 L600.4 315.6 L600.6 313.5 L600.8 314.0 L601.0 314.5 L601.2 314.2 L601.4 314.3 L601.6 315.0 L601.8 313.9 L602.0 314.3 L602.2 315.1 L602.4 313.3 L602.6 313.3 L602.8 314.9 L603.0 313.7 L603.2 313.9 L603.4 312.8 L603.6 314.9 L603.8 313.0 L604.0 315.2 L604.2 315.1 L604.4 314.6 L604.6 316.1 L604.8 314.8 L605.0 312.9 L605.2 313.3 L605.4 314.3 L605.6 314.8 L605.8 314.3 L606.0 314.6 L606.2 313.2 L606.4 313.2 L606.6 313.9 L606.8 314.6 L607.0 314.2 L607.2 313.2 L607.4 315.5 L607.6 314.9 L607.8 315.2 L608.0 313.6 L608.2 313.9 L608.4 313.3 L608.6 313.5 L608.8 312.0 L609.0 314.9 L609.2 314.2 L609.4 314.2 L609.6 314.0 L609.8 315.5 L610.0 315.2 L610.2 312.7 L610.4 315.4 L610.6 315.0 L610.8 315.3 L611.0 314.7 L611.2 315.8 L611.4 314.0 L611.6 312.9 L611.8 314.2 L612.0 314.6 L612.2 315.3 L612.4 314.5 L612.6 312.9 L612.8 314.4 L613.0 314.6 L613.2 314.0 L613.4 313.1 L613.6 314.8 L613.8 313.3 L614.0 314.5 L614.2 315.9 L614.4 313.1 L614.6 314.3 L614.8 314.9 L615.0 312.6 L615.2 315.6 L615.4 314.7 L615.6 312.6 L615.8 313.8 L616.0 313.4 L616.2 315.1 L616.4 313.6 L616.6 314.4 L616.8 313.9 L617.0 312.7 L617.2 314.2 L617.4 314.6 L617.6 313.3 L617.8 316.1 L618.0 314.4 L618.2 315.0 L618.4 313.6 L618.6 314.3 L618.8 314.8 L619.0 314.6 L619.2 315.0 L619.4 314.2 L619.6 312.8 L619.8 313.5 L620.0 316.3 L620.2 314.6 L620.4 313.3 L620.6 313.5 L620.8 313.4 L621.0 313.4 L621.2 313.3 L621.4 313.9 L621.6 314.8 L621.8 313.1 L622.0 314.0 L622.2 315.3 L622.4 314.3 L622.5 315.1 L622.7 314.7 L622.9 314.0 L623.1 314.9 L623.3 313.7 L623.5 314.2 L623.7 315.7 L623.9 314.7 L624.1 313.6 L624.3 314.4 L624.5 313.1 L624.7 316.0 L624.9 314.0 L625.1 314.9 L625.3 312.4 L625.5 313.8 L625.7 313.6 L625.9 313.5 L626.1 316.0 L626.3 313.1 L626.5 312.8 L626.7 313.9 L626.9 314.2 L627.1 313.2 L627.3 315.0 L627.5 315.8 L627.7 314.9 L627.9 315.0 L628.1 314.9 L628.3 314.9 L628.5 313.5 L628.7 314.8 L628.9 312.8 L629.1 313.2 L629.3 313.1 L629.5 315.4 L629.7 314.0 L629.9 315.0 L630.1 314.1 L630.3 315.4 L630.5 314.4 L630.7 313.4 L630.9 314.1 L631.1 314.2 L631.3 314.4 L631.5 314.3 L631.7 314.8 L631.9 314.8 L632.1 316.6 L632.3 311.5 L632.5 314.1 L632.7 315.6 L632.9 314.1 L633.1 314.4 L633.3 314.3 L633.5 315.0 L633.7 316.0 L633.9 315.8 L634.1 313.9 L634.3 314.8 L634.5 314.8 L634.7 315.0 L634.9 313.9 L635.1 314.7 L635.3 313.7 L635.5 314.1 L635.7 313.7 L635.9 315.3 L636.1 314.8 L636.3 314.2 L636.5 314.1 L636.7 315.4 L636.9 314.6 L637.1 314.7 L637.3 315.4 L637.5 315.0 L637.7 315.1 L637.9 315.7 L638.1 315.7 L638.3 315.1 L638.5 314.2 L638.7 314.2 L638.9 316.1 L639.1 314.0 L639.3 314.6 L639.5 313.3 L639.7 313.8 L639.9 312.8 L640.1 314.2 L640.3 314.8 L640.5 314.1 L640.7 314.3 L640.9 314.9 L641.1 314.4 L641.3 314.2 L641.5 314.7 L641.7 314.5 L641.9 314.7 L642.1 313.4 L642.3 315.4 L642.5 314.3 L642.7 313.8 L642.9 314.1 L643.1 314.9 L643.3 315.9 L643.5 315.7 L643.7 315.1 L643.9 314.1 L644.1 314.8 L644.3 313.3 L644.5 314.0 L644.7 315.5 L644.9 313.4 L645.1 314.7 L645.3 316.1 L645.5 313.0 L645.7 315.6 L645.9 313.4 L646.1 314.7 L646.3 313.5 L646.5 315.5 L646.7 314.4 L646.9 316.2 L647.1 314.4 L647.3 313.4 L647.5 314.7 L647.7 314.5 L647.9 314.4 L648.1 313.7 L648.3 315.3 L648.5 314.2 L648.7 314.7 L648.9 314.6 L649.1 314.6 L649.3 312.8 L649.5 314.3 L649.7 313.1 L649.9 314.5 L650.1 313.5 L650.3 313.4 L650.5 315.2 L650.7 314.5 L650.9 313.2 L651.1 316.9 L651.3 313.3 L651.5 313.8 L651.7 314.5 L651.9 314.3 L652.1 315.5 L652.3 313.0 L652.5 314.9 L652.7 312.3 L652.9 313.7 L653.1 314.5 L653.3 314.3 L653.5 314.3 L653.7 315.5 L653.9 313.7 L654.1 313.5 L654.3 313.7 L654.5 313.9 L654.7 315.3 L654.9 313.5 L655.1 315.1 L655.3 312.3 L655.5 312.3 L655.7 315.2 L655.9 313.1 L656.1 315.1 L656.3 312.9 L656.5 312.7 L656.7 312.2 L656.9 314.5 L657.1 314.3 L657.3 314.2 L657.5 314.9 L657.7 314.0 L657.9 314.2 L658.1 315.5 L658.3 314.9 L658.5 314.9 L658.7 315.9 L658.9 314.8 L659.1 314.9 L659.3 315.5 L659.5 314.8 L659.7 314.8 L659.9 314.6 L660.1 313.7 L660.3 314.0 L660.5 315.0 L660.7 315.7 L660.9 313.5 L661.1 314.3 L661.3 313.3 L661.5 315.4 L661.7 314.8 L661.9 314.6 L662.1 314.5 L662.3 313.5 L662.5 313.9 L662.7 314.5 L662.9 313.7 L663.1 313.4 L663.3 315.3 L663.5 314.1 L663.7 315.1 L663.9 314.0 L664.1 313.0 L664.3 314.3 L664.5 315.8 L664.7 315.7 L664.9 313.8 L665.1 313.4 L665.3 315.7 L665.5 313.7 L665.7 314.3 L665.9 313.0 L666.1 313.3 L666.3 316.4 L666.5 313.3 L666.7 313.1 L666.9 315.3 L667.1 315.0 L667.2 316.3 L667.4 315.3 L667.6 314.8 L667.8 315.0 L668.0 315.2 L668.2 314.5 L668.4 312.5 L668.6 314.5 L668.8 314.4 L669.0 313.7 L669.2 314.8 L669.4 313.9 L669.6 313.7 L669.8 313.2 L670.0 314.2 L670.2 313.0 L670.4 313.7 L670.6 314.6 L670.8 314.3 L671.0 313.0 L671.2 313.9 L671.4 313.7 L671.6 313.8 L671.8 313.2 L672.0 314.5 L672.2 315.0 L672.4 314.9 L672.6 313.8 L672.8 314.1 L673.0 314.8 L673.2 314.1 L673.4 313.6 L673.6 315.3 L673.8 314.8 L674.0 313.4 L674.2 313.3 L674.4 313.7 L674.6 313.6 L674.8 313.3 L675.0 315.4 L675.2 312.3 L675.4 315.0 L675.6 314.6 L675.8 316.3 L676.0 314.1 L676.2 316.1 L676.4 313.7 L676.6 314.2 L676.8 314.0 L677.0 314.0 L677.2 315.1 L677.4 314.2 L677.6 314.0 L677.8 313.5 L678.0 314.3 L678.2 315.2 L678.4 314.0 L678.6 314.0 L678.8 315.9 L679.0 313.3 L679.2 315.0 L679.4 314.4 L679.6 315.5 L679.8 315.1 L680.0 315.2 L680.2 314.3 L680.4 313.9 L680.6 314.8 L680.8 314.8 L681.0 313.7 L681.2 315.4 L681.4 315.3 L681.6 315.6 L681.8 314.4 L682.0 314.8 L682.2 315.5 L682.4 314.9 L682.6 313.2 L682.8 313.3 L683.0 314.0 L683.2 314.6 L683.4 314.3 L683.6 312.7 L683.8 313.8 L684.0 312.5 L684.2 314.5 L684.4 315.0 L684.6 314.1 L684.8 313.4 L685.0 315.9 L685.2 314.2 L685.4 314.3 L685.6 313.6 L685.8 314.0 L686.0 314.8 L686.2 313.5 L686.4 313.9 L686.6 313.6 L686.8 314.1 L687.0 314.1 L687.2 313.8 L687.4 313.3 L687.6 315.2 L687.8 314.7 L688.0 313.0 L688.2 315.4 L688.4 313.1 L688.6 315.0 L688.8 314.2 L689.0 314.3 L689.2 313.9 L689.4 315.7 L689.6 314.3" stroke="#A5A5A5" stroke-width="1.8"/>
</g>
<g font-size="14"><text transform="translate(28.6,346.1) scale(0.97,1)" text-anchor="middle">0</text><text transform="translate(102.1,346.1) scale(0.97,1)" text-anchor="middle">10</text><text transform="translate(175.5,346.1) scale(0.97,1)" text-anchor="middle">20</text><text transform="translate(249.0,346.1) scale(0.97,1)" text-anchor="middle">30</text><text transform="translate(322.4,346.1) scale(0.97,1)" text-anchor="middle">40</text><text transform="translate(395.9,346.1) scale(0.97,1)" text-anchor="middle">50</text><text transform="translate(469.4,346.1) scale(0.97,1)" text-anchor="middle">60</text><text transform="translate(542.8,346.1) scale(0.97,1)" text-anchor="middle">70</text><text transform="translate(616.3,346.1) scale(0.97,1)" text-anchor="middle">80</text><text transform="translate(689.7,346.1) scale(0.97,1)" text-anchor="middle">90</text></g>
<text x="366.2" y="373" font-size="19.5" text-anchor="middle">Position [°2θ]</text>
<text transform="translate(19.0,175.9) rotate(-90)" font-size="19.7" text-anchor="middle">Intensity [Counts]</text>
<g stroke-width="2" fill="none">
<line x1="151.4" y1="404" x2="179.8" y2="404" stroke="#4472C4"/>
<line x1="245.1" y1="404" x2="273.9" y2="404" stroke="#ED7D31"/>
<line x1="334.3" y1="404" x2="363.1" y2="404" stroke="#FFC000"/>
<line x1="540.4" y1="404" x2="568.9" y2="404" stroke="#A5A5A5"/>
</g>
<g font-size="19.5">
<text x="182.9" y="410">QRC</text>
<text x="276.0" y="410">PCL</text>
<text x="366.3" y="410">Physical Mixture</text>
<text x="571.8" y="410">F3</text>
</g>
</svg>
</body></html>
